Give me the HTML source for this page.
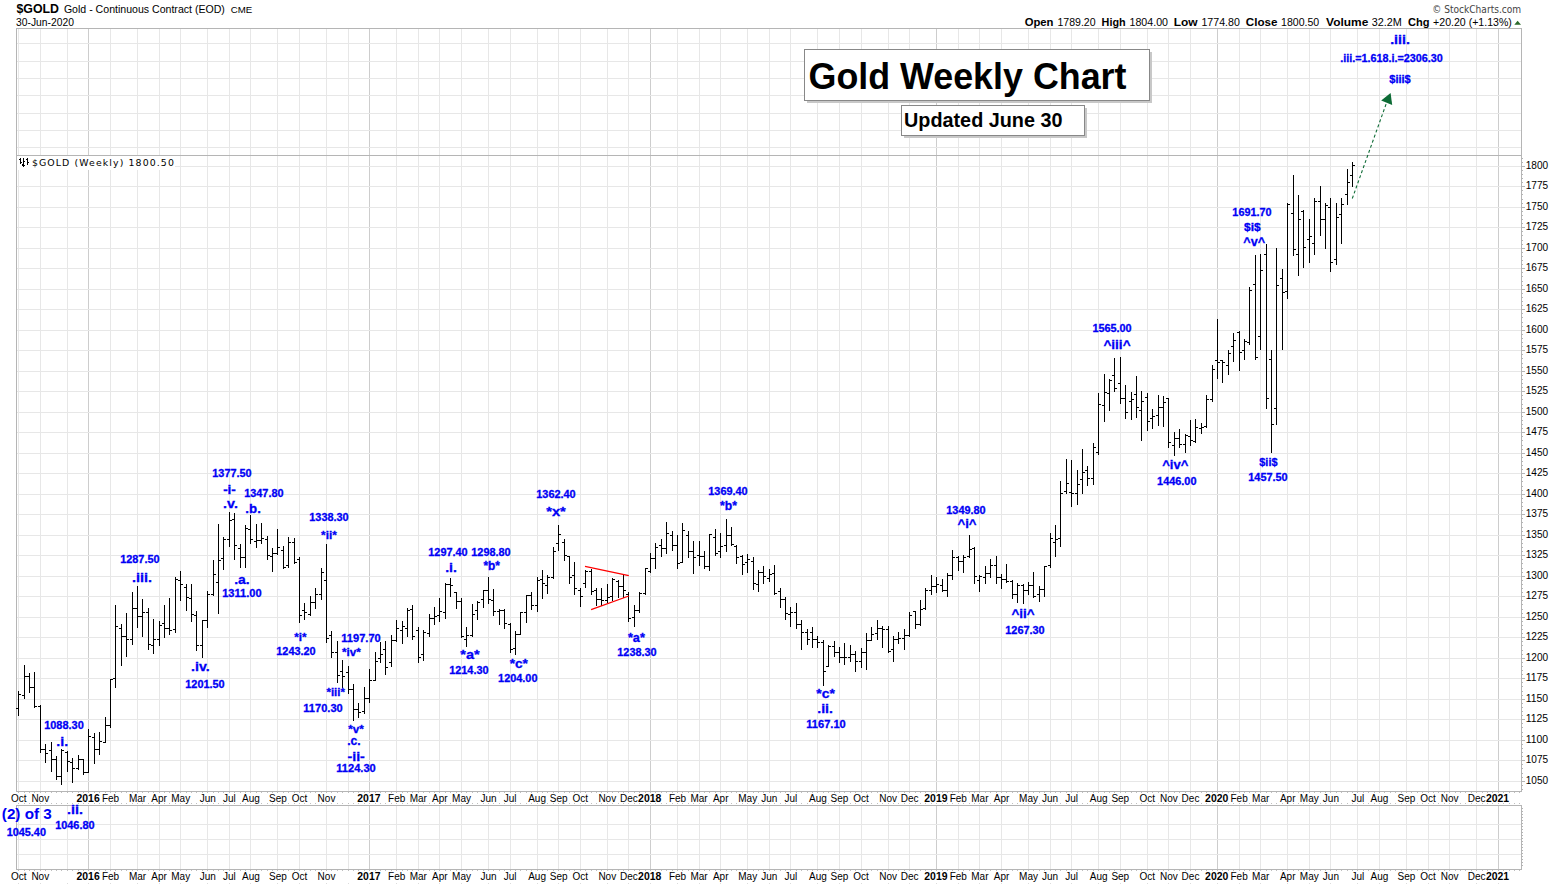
<!DOCTYPE html>
<html lang="en"><head><meta charset="utf-8"><title>$GOLD Gold Weekly Chart</title>
<style>html,body{margin:0;padding:0;background:#fff}body{width:1565px;height:885px;overflow:hidden;font-family:"Liberation Sans", Arial, sans-serif}svg{display:block}</style>
</head><body>
<svg width="1565" height="885" viewBox="0 0 1565 885" shape-rendering="crispEdges">
<rect width="1565" height="885" fill="#fff"/>
<g id="grid"><rect x="18" y="28" width="1" height="763" fill="#e7e7e7"/><rect x="18" y="805" width="1" height="64" fill="#e7e7e7"/><rect x="40" y="28" width="1" height="763" fill="#e7e7e7"/><rect x="40" y="805" width="1" height="64" fill="#e7e7e7"/><rect x="67" y="28" width="1" height="763" fill="#e7e7e7"/><rect x="67" y="805" width="1" height="64" fill="#e7e7e7"/><rect x="88" y="28" width="1" height="763" fill="#cdcdcd"/><rect x="88" y="805" width="1" height="64" fill="#cdcdcd"/><rect x="110" y="28" width="1" height="763" fill="#e7e7e7"/><rect x="110" y="805" width="1" height="64" fill="#e7e7e7"/><rect x="137" y="28" width="1" height="763" fill="#e7e7e7"/><rect x="137" y="805" width="1" height="64" fill="#e7e7e7"/><rect x="159" y="28" width="1" height="763" fill="#e7e7e7"/><rect x="159" y="805" width="1" height="64" fill="#e7e7e7"/><rect x="180" y="28" width="1" height="763" fill="#e7e7e7"/><rect x="180" y="805" width="1" height="64" fill="#e7e7e7"/><rect x="207" y="28" width="1" height="763" fill="#e7e7e7"/><rect x="207" y="805" width="1" height="64" fill="#e7e7e7"/><rect x="229" y="28" width="1" height="763" fill="#e7e7e7"/><rect x="229" y="805" width="1" height="64" fill="#e7e7e7"/><rect x="250" y="28" width="1" height="763" fill="#e7e7e7"/><rect x="250" y="805" width="1" height="64" fill="#e7e7e7"/><rect x="277" y="28" width="1" height="763" fill="#e7e7e7"/><rect x="277" y="805" width="1" height="64" fill="#e7e7e7"/><rect x="299" y="28" width="1" height="763" fill="#e7e7e7"/><rect x="299" y="805" width="1" height="64" fill="#e7e7e7"/><rect x="326" y="28" width="1" height="763" fill="#e7e7e7"/><rect x="326" y="805" width="1" height="64" fill="#e7e7e7"/><rect x="348" y="28" width="1" height="763" fill="#e7e7e7"/><rect x="348" y="805" width="1" height="64" fill="#e7e7e7"/><rect x="369" y="28" width="1" height="763" fill="#cdcdcd"/><rect x="369" y="805" width="1" height="64" fill="#cdcdcd"/><rect x="396" y="28" width="1" height="763" fill="#e7e7e7"/><rect x="396" y="805" width="1" height="64" fill="#e7e7e7"/><rect x="418" y="28" width="1" height="763" fill="#e7e7e7"/><rect x="418" y="805" width="1" height="64" fill="#e7e7e7"/><rect x="439" y="28" width="1" height="763" fill="#e7e7e7"/><rect x="439" y="805" width="1" height="64" fill="#e7e7e7"/><rect x="461" y="28" width="1" height="763" fill="#e7e7e7"/><rect x="461" y="805" width="1" height="64" fill="#e7e7e7"/><rect x="488" y="28" width="1" height="763" fill="#e7e7e7"/><rect x="488" y="805" width="1" height="64" fill="#e7e7e7"/><rect x="510" y="28" width="1" height="763" fill="#e7e7e7"/><rect x="510" y="805" width="1" height="64" fill="#e7e7e7"/><rect x="537" y="28" width="1" height="763" fill="#e7e7e7"/><rect x="537" y="805" width="1" height="64" fill="#e7e7e7"/><rect x="558" y="28" width="1" height="763" fill="#e7e7e7"/><rect x="558" y="805" width="1" height="64" fill="#e7e7e7"/><rect x="580" y="28" width="1" height="763" fill="#e7e7e7"/><rect x="580" y="805" width="1" height="64" fill="#e7e7e7"/><rect x="607" y="28" width="1" height="763" fill="#e7e7e7"/><rect x="607" y="805" width="1" height="64" fill="#e7e7e7"/><rect x="628" y="28" width="1" height="763" fill="#e7e7e7"/><rect x="628" y="805" width="1" height="64" fill="#e7e7e7"/><rect x="650" y="28" width="1" height="763" fill="#cdcdcd"/><rect x="650" y="805" width="1" height="64" fill="#cdcdcd"/><rect x="677" y="28" width="1" height="763" fill="#e7e7e7"/><rect x="677" y="805" width="1" height="64" fill="#e7e7e7"/><rect x="699" y="28" width="1" height="763" fill="#e7e7e7"/><rect x="699" y="805" width="1" height="64" fill="#e7e7e7"/><rect x="720" y="28" width="1" height="763" fill="#e7e7e7"/><rect x="720" y="805" width="1" height="64" fill="#e7e7e7"/><rect x="747" y="28" width="1" height="763" fill="#e7e7e7"/><rect x="747" y="805" width="1" height="64" fill="#e7e7e7"/><rect x="769" y="28" width="1" height="763" fill="#e7e7e7"/><rect x="769" y="805" width="1" height="64" fill="#e7e7e7"/><rect x="790" y="28" width="1" height="763" fill="#e7e7e7"/><rect x="790" y="805" width="1" height="64" fill="#e7e7e7"/><rect x="817" y="28" width="1" height="763" fill="#e7e7e7"/><rect x="817" y="805" width="1" height="64" fill="#e7e7e7"/><rect x="839" y="28" width="1" height="763" fill="#e7e7e7"/><rect x="839" y="805" width="1" height="64" fill="#e7e7e7"/><rect x="861" y="28" width="1" height="763" fill="#e7e7e7"/><rect x="861" y="805" width="1" height="64" fill="#e7e7e7"/><rect x="888" y="28" width="1" height="763" fill="#e7e7e7"/><rect x="888" y="805" width="1" height="64" fill="#e7e7e7"/><rect x="909" y="28" width="1" height="763" fill="#e7e7e7"/><rect x="909" y="805" width="1" height="64" fill="#e7e7e7"/><rect x="936" y="28" width="1" height="763" fill="#cdcdcd"/><rect x="936" y="805" width="1" height="64" fill="#cdcdcd"/><rect x="958" y="28" width="1" height="763" fill="#e7e7e7"/><rect x="958" y="805" width="1" height="64" fill="#e7e7e7"/><rect x="979" y="28" width="1" height="763" fill="#e7e7e7"/><rect x="979" y="805" width="1" height="64" fill="#e7e7e7"/><rect x="1001" y="28" width="1" height="763" fill="#e7e7e7"/><rect x="1001" y="805" width="1" height="64" fill="#e7e7e7"/><rect x="1028" y="28" width="1" height="763" fill="#e7e7e7"/><rect x="1028" y="805" width="1" height="64" fill="#e7e7e7"/><rect x="1050" y="28" width="1" height="763" fill="#e7e7e7"/><rect x="1050" y="805" width="1" height="64" fill="#e7e7e7"/><rect x="1071" y="28" width="1" height="763" fill="#e7e7e7"/><rect x="1071" y="805" width="1" height="64" fill="#e7e7e7"/><rect x="1098" y="28" width="1" height="763" fill="#e7e7e7"/><rect x="1098" y="805" width="1" height="64" fill="#e7e7e7"/><rect x="1120" y="28" width="1" height="763" fill="#e7e7e7"/><rect x="1120" y="805" width="1" height="64" fill="#e7e7e7"/><rect x="1147" y="28" width="1" height="763" fill="#e7e7e7"/><rect x="1147" y="805" width="1" height="64" fill="#e7e7e7"/><rect x="1168" y="28" width="1" height="763" fill="#e7e7e7"/><rect x="1168" y="805" width="1" height="64" fill="#e7e7e7"/><rect x="1190" y="28" width="1" height="763" fill="#e7e7e7"/><rect x="1190" y="805" width="1" height="64" fill="#e7e7e7"/><rect x="1217" y="28" width="1" height="763" fill="#cdcdcd"/><rect x="1217" y="805" width="1" height="64" fill="#cdcdcd"/><rect x="1239" y="28" width="1" height="763" fill="#e7e7e7"/><rect x="1239" y="805" width="1" height="64" fill="#e7e7e7"/><rect x="1260" y="28" width="1" height="763" fill="#e7e7e7"/><rect x="1260" y="805" width="1" height="64" fill="#e7e7e7"/><rect x="1287" y="28" width="1" height="763" fill="#e7e7e7"/><rect x="1287" y="805" width="1" height="64" fill="#e7e7e7"/><rect x="1309" y="28" width="1" height="763" fill="#e7e7e7"/><rect x="1309" y="805" width="1" height="64" fill="#e7e7e7"/><rect x="1330" y="28" width="1" height="763" fill="#e7e7e7"/><rect x="1330" y="805" width="1" height="64" fill="#e7e7e7"/><rect x="1357" y="28" width="1" height="763" fill="#e7e7e7"/><rect x="1357" y="805" width="1" height="64" fill="#e7e7e7"/><rect x="1379" y="28" width="1" height="763" fill="#e7e7e7"/><rect x="1379" y="805" width="1" height="64" fill="#e7e7e7"/><rect x="1406" y="28" width="1" height="763" fill="#e7e7e7"/><rect x="1406" y="805" width="1" height="64" fill="#e7e7e7"/><rect x="1428" y="28" width="1" height="763" fill="#e7e7e7"/><rect x="1428" y="805" width="1" height="64" fill="#e7e7e7"/><rect x="1449" y="28" width="1" height="763" fill="#e7e7e7"/><rect x="1449" y="805" width="1" height="64" fill="#e7e7e7"/><rect x="1476" y="28" width="1" height="763" fill="#e7e7e7"/><rect x="1476" y="805" width="1" height="64" fill="#e7e7e7"/><rect x="1498" y="28" width="1" height="763" fill="#cdcdcd"/><rect x="1498" y="805" width="1" height="64" fill="#cdcdcd"/><rect x="16" y="43" width="1505" height="1" fill="#e7e7e7"/><rect x="16" y="61" width="1505" height="1" fill="#e7e7e7"/><rect x="16" y="78" width="1505" height="1" fill="#e7e7e7"/><rect x="16" y="95" width="1505" height="1" fill="#e7e7e7"/><rect x="16" y="113" width="1505" height="1" fill="#e7e7e7"/><rect x="16" y="130" width="1505" height="1" fill="#e7e7e7"/><rect x="16" y="147" width="1505" height="1" fill="#e7e7e7"/><rect x="16" y="166" width="1505" height="1" fill="#e7e7e7"/><rect x="16" y="186" width="1505" height="1" fill="#e7e7e7"/><rect x="16" y="207" width="1505" height="1" fill="#e7e7e7"/><rect x="16" y="227" width="1505" height="1" fill="#e7e7e7"/><rect x="16" y="248" width="1505" height="1" fill="#e7e7e7"/><rect x="16" y="268" width="1505" height="1" fill="#e7e7e7"/><rect x="16" y="289" width="1505" height="1" fill="#e7e7e7"/><rect x="16" y="309" width="1505" height="1" fill="#e7e7e7"/><rect x="16" y="330" width="1505" height="1" fill="#e7e7e7"/><rect x="16" y="350" width="1505" height="1" fill="#e7e7e7"/><rect x="16" y="371" width="1505" height="1" fill="#e7e7e7"/><rect x="16" y="391" width="1505" height="1" fill="#e7e7e7"/><rect x="16" y="412" width="1505" height="1" fill="#e7e7e7"/><rect x="16" y="432" width="1505" height="1" fill="#e7e7e7"/><rect x="16" y="453" width="1505" height="1" fill="#e7e7e7"/><rect x="16" y="473" width="1505" height="1" fill="#e7e7e7"/><rect x="16" y="494" width="1505" height="1" fill="#e7e7e7"/><rect x="16" y="514" width="1505" height="1" fill="#e7e7e7"/><rect x="16" y="535" width="1505" height="1" fill="#e7e7e7"/><rect x="16" y="555" width="1505" height="1" fill="#e7e7e7"/><rect x="16" y="576" width="1505" height="1" fill="#e7e7e7"/><rect x="16" y="596" width="1505" height="1" fill="#e7e7e7"/><rect x="16" y="617" width="1505" height="1" fill="#e7e7e7"/><rect x="16" y="637" width="1505" height="1" fill="#e7e7e7"/><rect x="16" y="658" width="1505" height="1" fill="#e7e7e7"/><rect x="16" y="678" width="1505" height="1" fill="#e7e7e7"/><rect x="16" y="699" width="1505" height="1" fill="#e7e7e7"/><rect x="16" y="719" width="1505" height="1" fill="#e7e7e7"/><rect x="16" y="740" width="1505" height="1" fill="#e7e7e7"/><rect x="16" y="760" width="1505" height="1" fill="#e7e7e7"/><rect x="16" y="781" width="1505" height="1" fill="#e7e7e7"/><rect x="16" y="824" width="1505" height="1" fill="#e7e7e7"/><rect x="16" y="839" width="1505" height="1" fill="#e7e7e7"/><rect x="16" y="854" width="1505" height="1" fill="#e7e7e7"/></g>
<g id="borders"><rect x="16" y="28" width="1506" height="1" fill="#b5b5b5"/><rect x="16" y="155" width="1506" height="1" fill="#b5b5b5"/><rect x="16" y="791" width="1506" height="1" fill="#b5b5b5"/><rect x="16" y="28" width="1" height="764" fill="#b5b5b5"/><rect x="1521" y="28" width="1" height="764" fill="#b5b5b5"/><rect x="16" y="805" width="1506" height="1" fill="#b5b5b5"/><rect x="16" y="869" width="1506" height="1" fill="#b5b5b5"/><rect x="16" y="805" width="1" height="65" fill="#b5b5b5"/><rect x="1521" y="805" width="1" height="65" fill="#b5b5b5"/><rect x="1522" y="166" width="3" height="1" fill="#b5b5b5"/><rect x="1522" y="170" width="1" height="1" fill="#b5b5b5"/><rect x="1522" y="174" width="1" height="1" fill="#b5b5b5"/><rect x="1522" y="178" width="1" height="1" fill="#b5b5b5"/><rect x="1522" y="182" width="1" height="1" fill="#b5b5b5"/><rect x="1522" y="186" width="3" height="1" fill="#b5b5b5"/><rect x="1522" y="190" width="1" height="1" fill="#b5b5b5"/><rect x="1522" y="194" width="1" height="1" fill="#b5b5b5"/><rect x="1522" y="199" width="1" height="1" fill="#b5b5b5"/><rect x="1522" y="203" width="1" height="1" fill="#b5b5b5"/><rect x="1522" y="207" width="3" height="1" fill="#b5b5b5"/><rect x="1522" y="211" width="1" height="1" fill="#b5b5b5"/><rect x="1522" y="215" width="1" height="1" fill="#b5b5b5"/><rect x="1522" y="219" width="1" height="1" fill="#b5b5b5"/><rect x="1522" y="223" width="1" height="1" fill="#b5b5b5"/><rect x="1522" y="227" width="3" height="1" fill="#b5b5b5"/><rect x="1522" y="231" width="1" height="1" fill="#b5b5b5"/><rect x="1522" y="235" width="1" height="1" fill="#b5b5b5"/><rect x="1522" y="240" width="1" height="1" fill="#b5b5b5"/><rect x="1522" y="244" width="1" height="1" fill="#b5b5b5"/><rect x="1522" y="248" width="3" height="1" fill="#b5b5b5"/><rect x="1522" y="252" width="1" height="1" fill="#b5b5b5"/><rect x="1522" y="256" width="1" height="1" fill="#b5b5b5"/><rect x="1522" y="260" width="1" height="1" fill="#b5b5b5"/><rect x="1522" y="264" width="1" height="1" fill="#b5b5b5"/><rect x="1522" y="268" width="3" height="1" fill="#b5b5b5"/><rect x="1522" y="272" width="1" height="1" fill="#b5b5b5"/><rect x="1522" y="276" width="1" height="1" fill="#b5b5b5"/><rect x="1522" y="281" width="1" height="1" fill="#b5b5b5"/><rect x="1522" y="285" width="1" height="1" fill="#b5b5b5"/><rect x="1522" y="289" width="3" height="1" fill="#b5b5b5"/><rect x="1522" y="293" width="1" height="1" fill="#b5b5b5"/><rect x="1522" y="297" width="1" height="1" fill="#b5b5b5"/><rect x="1522" y="301" width="1" height="1" fill="#b5b5b5"/><rect x="1522" y="305" width="1" height="1" fill="#b5b5b5"/><rect x="1522" y="309" width="3" height="1" fill="#b5b5b5"/><rect x="1522" y="313" width="1" height="1" fill="#b5b5b5"/><rect x="1522" y="317" width="1" height="1" fill="#b5b5b5"/><rect x="1522" y="322" width="1" height="1" fill="#b5b5b5"/><rect x="1522" y="326" width="1" height="1" fill="#b5b5b5"/><rect x="1522" y="330" width="3" height="1" fill="#b5b5b5"/><rect x="1522" y="334" width="1" height="1" fill="#b5b5b5"/><rect x="1522" y="338" width="1" height="1" fill="#b5b5b5"/><rect x="1522" y="342" width="1" height="1" fill="#b5b5b5"/><rect x="1522" y="346" width="1" height="1" fill="#b5b5b5"/><rect x="1522" y="350" width="3" height="1" fill="#b5b5b5"/><rect x="1522" y="354" width="1" height="1" fill="#b5b5b5"/><rect x="1522" y="358" width="1" height="1" fill="#b5b5b5"/><rect x="1522" y="363" width="1" height="1" fill="#b5b5b5"/><rect x="1522" y="367" width="1" height="1" fill="#b5b5b5"/><rect x="1522" y="371" width="3" height="1" fill="#b5b5b5"/><rect x="1522" y="375" width="1" height="1" fill="#b5b5b5"/><rect x="1522" y="379" width="1" height="1" fill="#b5b5b5"/><rect x="1522" y="383" width="1" height="1" fill="#b5b5b5"/><rect x="1522" y="387" width="1" height="1" fill="#b5b5b5"/><rect x="1522" y="391" width="3" height="1" fill="#b5b5b5"/><rect x="1522" y="395" width="1" height="1" fill="#b5b5b5"/><rect x="1522" y="399" width="1" height="1" fill="#b5b5b5"/><rect x="1522" y="404" width="1" height="1" fill="#b5b5b5"/><rect x="1522" y="408" width="1" height="1" fill="#b5b5b5"/><rect x="1522" y="412" width="3" height="1" fill="#b5b5b5"/><rect x="1522" y="416" width="1" height="1" fill="#b5b5b5"/><rect x="1522" y="420" width="1" height="1" fill="#b5b5b5"/><rect x="1522" y="424" width="1" height="1" fill="#b5b5b5"/><rect x="1522" y="428" width="1" height="1" fill="#b5b5b5"/><rect x="1522" y="432" width="3" height="1" fill="#b5b5b5"/><rect x="1522" y="436" width="1" height="1" fill="#b5b5b5"/><rect x="1522" y="440" width="1" height="1" fill="#b5b5b5"/><rect x="1522" y="445" width="1" height="1" fill="#b5b5b5"/><rect x="1522" y="449" width="1" height="1" fill="#b5b5b5"/><rect x="1522" y="453" width="3" height="1" fill="#b5b5b5"/><rect x="1522" y="457" width="1" height="1" fill="#b5b5b5"/><rect x="1522" y="461" width="1" height="1" fill="#b5b5b5"/><rect x="1522" y="465" width="1" height="1" fill="#b5b5b5"/><rect x="1522" y="469" width="1" height="1" fill="#b5b5b5"/><rect x="1522" y="473" width="3" height="1" fill="#b5b5b5"/><rect x="1522" y="477" width="1" height="1" fill="#b5b5b5"/><rect x="1522" y="481" width="1" height="1" fill="#b5b5b5"/><rect x="1522" y="486" width="1" height="1" fill="#b5b5b5"/><rect x="1522" y="490" width="1" height="1" fill="#b5b5b5"/><rect x="1522" y="494" width="3" height="1" fill="#b5b5b5"/><rect x="1522" y="498" width="1" height="1" fill="#b5b5b5"/><rect x="1522" y="502" width="1" height="1" fill="#b5b5b5"/><rect x="1522" y="506" width="1" height="1" fill="#b5b5b5"/><rect x="1522" y="510" width="1" height="1" fill="#b5b5b5"/><rect x="1522" y="514" width="3" height="1" fill="#b5b5b5"/><rect x="1522" y="518" width="1" height="1" fill="#b5b5b5"/><rect x="1522" y="522" width="1" height="1" fill="#b5b5b5"/><rect x="1522" y="527" width="1" height="1" fill="#b5b5b5"/><rect x="1522" y="531" width="1" height="1" fill="#b5b5b5"/><rect x="1522" y="535" width="3" height="1" fill="#b5b5b5"/><rect x="1522" y="539" width="1" height="1" fill="#b5b5b5"/><rect x="1522" y="543" width="1" height="1" fill="#b5b5b5"/><rect x="1522" y="547" width="1" height="1" fill="#b5b5b5"/><rect x="1522" y="551" width="1" height="1" fill="#b5b5b5"/><rect x="1522" y="555" width="3" height="1" fill="#b5b5b5"/><rect x="1522" y="559" width="1" height="1" fill="#b5b5b5"/><rect x="1522" y="563" width="1" height="1" fill="#b5b5b5"/><rect x="1522" y="568" width="1" height="1" fill="#b5b5b5"/><rect x="1522" y="572" width="1" height="1" fill="#b5b5b5"/><rect x="1522" y="576" width="3" height="1" fill="#b5b5b5"/><rect x="1522" y="580" width="1" height="1" fill="#b5b5b5"/><rect x="1522" y="584" width="1" height="1" fill="#b5b5b5"/><rect x="1522" y="588" width="1" height="1" fill="#b5b5b5"/><rect x="1522" y="592" width="1" height="1" fill="#b5b5b5"/><rect x="1522" y="596" width="3" height="1" fill="#b5b5b5"/><rect x="1522" y="600" width="1" height="1" fill="#b5b5b5"/><rect x="1522" y="604" width="1" height="1" fill="#b5b5b5"/><rect x="1522" y="609" width="1" height="1" fill="#b5b5b5"/><rect x="1522" y="613" width="1" height="1" fill="#b5b5b5"/><rect x="1522" y="617" width="3" height="1" fill="#b5b5b5"/><rect x="1522" y="621" width="1" height="1" fill="#b5b5b5"/><rect x="1522" y="625" width="1" height="1" fill="#b5b5b5"/><rect x="1522" y="629" width="1" height="1" fill="#b5b5b5"/><rect x="1522" y="633" width="1" height="1" fill="#b5b5b5"/><rect x="1522" y="637" width="3" height="1" fill="#b5b5b5"/><rect x="1522" y="641" width="1" height="1" fill="#b5b5b5"/><rect x="1522" y="645" width="1" height="1" fill="#b5b5b5"/><rect x="1522" y="650" width="1" height="1" fill="#b5b5b5"/><rect x="1522" y="654" width="1" height="1" fill="#b5b5b5"/><rect x="1522" y="658" width="3" height="1" fill="#b5b5b5"/><rect x="1522" y="662" width="1" height="1" fill="#b5b5b5"/><rect x="1522" y="666" width="1" height="1" fill="#b5b5b5"/><rect x="1522" y="670" width="1" height="1" fill="#b5b5b5"/><rect x="1522" y="674" width="1" height="1" fill="#b5b5b5"/><rect x="1522" y="678" width="3" height="1" fill="#b5b5b5"/><rect x="1522" y="682" width="1" height="1" fill="#b5b5b5"/><rect x="1522" y="686" width="1" height="1" fill="#b5b5b5"/><rect x="1522" y="691" width="1" height="1" fill="#b5b5b5"/><rect x="1522" y="695" width="1" height="1" fill="#b5b5b5"/><rect x="1522" y="699" width="3" height="1" fill="#b5b5b5"/><rect x="1522" y="703" width="1" height="1" fill="#b5b5b5"/><rect x="1522" y="707" width="1" height="1" fill="#b5b5b5"/><rect x="1522" y="711" width="1" height="1" fill="#b5b5b5"/><rect x="1522" y="715" width="1" height="1" fill="#b5b5b5"/><rect x="1522" y="719" width="3" height="1" fill="#b5b5b5"/><rect x="1522" y="723" width="1" height="1" fill="#b5b5b5"/><rect x="1522" y="727" width="1" height="1" fill="#b5b5b5"/><rect x="1522" y="732" width="1" height="1" fill="#b5b5b5"/><rect x="1522" y="736" width="1" height="1" fill="#b5b5b5"/><rect x="1522" y="740" width="3" height="1" fill="#b5b5b5"/><rect x="1522" y="744" width="1" height="1" fill="#b5b5b5"/><rect x="1522" y="748" width="1" height="1" fill="#b5b5b5"/><rect x="1522" y="752" width="1" height="1" fill="#b5b5b5"/><rect x="1522" y="756" width="1" height="1" fill="#b5b5b5"/><rect x="1522" y="760" width="3" height="1" fill="#b5b5b5"/><rect x="1522" y="764" width="1" height="1" fill="#b5b5b5"/><rect x="1522" y="768" width="1" height="1" fill="#b5b5b5"/><rect x="1522" y="773" width="1" height="1" fill="#b5b5b5"/><rect x="1522" y="777" width="1" height="1" fill="#b5b5b5"/><rect x="1522" y="781" width="3" height="1" fill="#b5b5b5"/><rect x="1522" y="785" width="1" height="1" fill="#b5b5b5"/><rect x="1522" y="789" width="1" height="1" fill="#b5b5b5"/><rect x="1522" y="162" width="1" height="1" fill="#b5b5b5"/><rect x="1522" y="158" width="1" height="1" fill="#b5b5b5"/><rect x="18" y="792" width="1" height="1" fill="#bfbfbf"/><rect x="18" y="803" width="1" height="1" fill="#bfbfbf"/><rect x="18" y="870" width="1" height="1" fill="#bfbfbf"/><rect x="24" y="792" width="1" height="1" fill="#bfbfbf"/><rect x="24" y="803" width="1" height="1" fill="#bfbfbf"/><rect x="24" y="870" width="1" height="1" fill="#bfbfbf"/><rect x="29" y="792" width="1" height="1" fill="#bfbfbf"/><rect x="29" y="803" width="1" height="1" fill="#bfbfbf"/><rect x="29" y="870" width="1" height="1" fill="#bfbfbf"/><rect x="34" y="792" width="1" height="1" fill="#bfbfbf"/><rect x="34" y="803" width="1" height="1" fill="#bfbfbf"/><rect x="34" y="870" width="1" height="1" fill="#bfbfbf"/><rect x="40" y="792" width="1" height="1" fill="#bfbfbf"/><rect x="40" y="803" width="1" height="1" fill="#bfbfbf"/><rect x="40" y="870" width="1" height="1" fill="#bfbfbf"/><rect x="45" y="792" width="1" height="1" fill="#bfbfbf"/><rect x="45" y="803" width="1" height="1" fill="#bfbfbf"/><rect x="45" y="870" width="1" height="1" fill="#bfbfbf"/><rect x="51" y="792" width="1" height="1" fill="#bfbfbf"/><rect x="51" y="803" width="1" height="1" fill="#bfbfbf"/><rect x="51" y="870" width="1" height="1" fill="#bfbfbf"/><rect x="56" y="792" width="1" height="1" fill="#bfbfbf"/><rect x="56" y="803" width="1" height="1" fill="#bfbfbf"/><rect x="56" y="870" width="1" height="1" fill="#bfbfbf"/><rect x="61" y="792" width="1" height="1" fill="#bfbfbf"/><rect x="61" y="803" width="1" height="1" fill="#bfbfbf"/><rect x="61" y="870" width="1" height="1" fill="#bfbfbf"/><rect x="67" y="792" width="1" height="1" fill="#bfbfbf"/><rect x="67" y="803" width="1" height="1" fill="#bfbfbf"/><rect x="67" y="870" width="1" height="1" fill="#bfbfbf"/><rect x="72" y="792" width="1" height="1" fill="#bfbfbf"/><rect x="72" y="803" width="1" height="1" fill="#bfbfbf"/><rect x="72" y="870" width="1" height="1" fill="#bfbfbf"/><rect x="78" y="792" width="1" height="1" fill="#bfbfbf"/><rect x="78" y="803" width="1" height="1" fill="#bfbfbf"/><rect x="78" y="870" width="1" height="1" fill="#bfbfbf"/><rect x="83" y="792" width="1" height="1" fill="#bfbfbf"/><rect x="83" y="803" width="1" height="1" fill="#bfbfbf"/><rect x="83" y="870" width="1" height="1" fill="#bfbfbf"/><rect x="88" y="792" width="1" height="1" fill="#bfbfbf"/><rect x="88" y="803" width="1" height="1" fill="#bfbfbf"/><rect x="88" y="870" width="1" height="1" fill="#bfbfbf"/><rect x="94" y="792" width="1" height="1" fill="#bfbfbf"/><rect x="94" y="803" width="1" height="1" fill="#bfbfbf"/><rect x="94" y="870" width="1" height="1" fill="#bfbfbf"/><rect x="99" y="792" width="1" height="1" fill="#bfbfbf"/><rect x="99" y="803" width="1" height="1" fill="#bfbfbf"/><rect x="99" y="870" width="1" height="1" fill="#bfbfbf"/><rect x="105" y="792" width="1" height="1" fill="#bfbfbf"/><rect x="105" y="803" width="1" height="1" fill="#bfbfbf"/><rect x="105" y="870" width="1" height="1" fill="#bfbfbf"/><rect x="110" y="792" width="1" height="1" fill="#bfbfbf"/><rect x="110" y="803" width="1" height="1" fill="#bfbfbf"/><rect x="110" y="870" width="1" height="1" fill="#bfbfbf"/><rect x="115" y="792" width="1" height="1" fill="#bfbfbf"/><rect x="115" y="803" width="1" height="1" fill="#bfbfbf"/><rect x="115" y="870" width="1" height="1" fill="#bfbfbf"/><rect x="121" y="792" width="1" height="1" fill="#bfbfbf"/><rect x="121" y="803" width="1" height="1" fill="#bfbfbf"/><rect x="121" y="870" width="1" height="1" fill="#bfbfbf"/><rect x="126" y="792" width="1" height="1" fill="#bfbfbf"/><rect x="126" y="803" width="1" height="1" fill="#bfbfbf"/><rect x="126" y="870" width="1" height="1" fill="#bfbfbf"/><rect x="132" y="792" width="1" height="1" fill="#bfbfbf"/><rect x="132" y="803" width="1" height="1" fill="#bfbfbf"/><rect x="132" y="870" width="1" height="1" fill="#bfbfbf"/><rect x="137" y="792" width="1" height="1" fill="#bfbfbf"/><rect x="137" y="803" width="1" height="1" fill="#bfbfbf"/><rect x="137" y="870" width="1" height="1" fill="#bfbfbf"/><rect x="142" y="792" width="1" height="1" fill="#bfbfbf"/><rect x="142" y="803" width="1" height="1" fill="#bfbfbf"/><rect x="142" y="870" width="1" height="1" fill="#bfbfbf"/><rect x="148" y="792" width="1" height="1" fill="#bfbfbf"/><rect x="148" y="803" width="1" height="1" fill="#bfbfbf"/><rect x="148" y="870" width="1" height="1" fill="#bfbfbf"/><rect x="153" y="792" width="1" height="1" fill="#bfbfbf"/><rect x="153" y="803" width="1" height="1" fill="#bfbfbf"/><rect x="153" y="870" width="1" height="1" fill="#bfbfbf"/><rect x="159" y="792" width="1" height="1" fill="#bfbfbf"/><rect x="159" y="803" width="1" height="1" fill="#bfbfbf"/><rect x="159" y="870" width="1" height="1" fill="#bfbfbf"/><rect x="164" y="792" width="1" height="1" fill="#bfbfbf"/><rect x="164" y="803" width="1" height="1" fill="#bfbfbf"/><rect x="164" y="870" width="1" height="1" fill="#bfbfbf"/><rect x="169" y="792" width="1" height="1" fill="#bfbfbf"/><rect x="169" y="803" width="1" height="1" fill="#bfbfbf"/><rect x="169" y="870" width="1" height="1" fill="#bfbfbf"/><rect x="175" y="792" width="1" height="1" fill="#bfbfbf"/><rect x="175" y="803" width="1" height="1" fill="#bfbfbf"/><rect x="175" y="870" width="1" height="1" fill="#bfbfbf"/><rect x="180" y="792" width="1" height="1" fill="#bfbfbf"/><rect x="180" y="803" width="1" height="1" fill="#bfbfbf"/><rect x="180" y="870" width="1" height="1" fill="#bfbfbf"/><rect x="186" y="792" width="1" height="1" fill="#bfbfbf"/><rect x="186" y="803" width="1" height="1" fill="#bfbfbf"/><rect x="186" y="870" width="1" height="1" fill="#bfbfbf"/><rect x="191" y="792" width="1" height="1" fill="#bfbfbf"/><rect x="191" y="803" width="1" height="1" fill="#bfbfbf"/><rect x="191" y="870" width="1" height="1" fill="#bfbfbf"/><rect x="196" y="792" width="1" height="1" fill="#bfbfbf"/><rect x="196" y="803" width="1" height="1" fill="#bfbfbf"/><rect x="196" y="870" width="1" height="1" fill="#bfbfbf"/><rect x="202" y="792" width="1" height="1" fill="#bfbfbf"/><rect x="202" y="803" width="1" height="1" fill="#bfbfbf"/><rect x="202" y="870" width="1" height="1" fill="#bfbfbf"/><rect x="207" y="792" width="1" height="1" fill="#bfbfbf"/><rect x="207" y="803" width="1" height="1" fill="#bfbfbf"/><rect x="207" y="870" width="1" height="1" fill="#bfbfbf"/><rect x="213" y="792" width="1" height="1" fill="#bfbfbf"/><rect x="213" y="803" width="1" height="1" fill="#bfbfbf"/><rect x="213" y="870" width="1" height="1" fill="#bfbfbf"/><rect x="218" y="792" width="1" height="1" fill="#bfbfbf"/><rect x="218" y="803" width="1" height="1" fill="#bfbfbf"/><rect x="218" y="870" width="1" height="1" fill="#bfbfbf"/><rect x="223" y="792" width="1" height="1" fill="#bfbfbf"/><rect x="223" y="803" width="1" height="1" fill="#bfbfbf"/><rect x="223" y="870" width="1" height="1" fill="#bfbfbf"/><rect x="229" y="792" width="1" height="1" fill="#bfbfbf"/><rect x="229" y="803" width="1" height="1" fill="#bfbfbf"/><rect x="229" y="870" width="1" height="1" fill="#bfbfbf"/><rect x="234" y="792" width="1" height="1" fill="#bfbfbf"/><rect x="234" y="803" width="1" height="1" fill="#bfbfbf"/><rect x="234" y="870" width="1" height="1" fill="#bfbfbf"/><rect x="240" y="792" width="1" height="1" fill="#bfbfbf"/><rect x="240" y="803" width="1" height="1" fill="#bfbfbf"/><rect x="240" y="870" width="1" height="1" fill="#bfbfbf"/><rect x="245" y="792" width="1" height="1" fill="#bfbfbf"/><rect x="245" y="803" width="1" height="1" fill="#bfbfbf"/><rect x="245" y="870" width="1" height="1" fill="#bfbfbf"/><rect x="250" y="792" width="1" height="1" fill="#bfbfbf"/><rect x="250" y="803" width="1" height="1" fill="#bfbfbf"/><rect x="250" y="870" width="1" height="1" fill="#bfbfbf"/><rect x="256" y="792" width="1" height="1" fill="#bfbfbf"/><rect x="256" y="803" width="1" height="1" fill="#bfbfbf"/><rect x="256" y="870" width="1" height="1" fill="#bfbfbf"/><rect x="261" y="792" width="1" height="1" fill="#bfbfbf"/><rect x="261" y="803" width="1" height="1" fill="#bfbfbf"/><rect x="261" y="870" width="1" height="1" fill="#bfbfbf"/><rect x="267" y="792" width="1" height="1" fill="#bfbfbf"/><rect x="267" y="803" width="1" height="1" fill="#bfbfbf"/><rect x="267" y="870" width="1" height="1" fill="#bfbfbf"/><rect x="272" y="792" width="1" height="1" fill="#bfbfbf"/><rect x="272" y="803" width="1" height="1" fill="#bfbfbf"/><rect x="272" y="870" width="1" height="1" fill="#bfbfbf"/><rect x="277" y="792" width="1" height="1" fill="#bfbfbf"/><rect x="277" y="803" width="1" height="1" fill="#bfbfbf"/><rect x="277" y="870" width="1" height="1" fill="#bfbfbf"/><rect x="283" y="792" width="1" height="1" fill="#bfbfbf"/><rect x="283" y="803" width="1" height="1" fill="#bfbfbf"/><rect x="283" y="870" width="1" height="1" fill="#bfbfbf"/><rect x="288" y="792" width="1" height="1" fill="#bfbfbf"/><rect x="288" y="803" width="1" height="1" fill="#bfbfbf"/><rect x="288" y="870" width="1" height="1" fill="#bfbfbf"/><rect x="294" y="792" width="1" height="1" fill="#bfbfbf"/><rect x="294" y="803" width="1" height="1" fill="#bfbfbf"/><rect x="294" y="870" width="1" height="1" fill="#bfbfbf"/><rect x="299" y="792" width="1" height="1" fill="#bfbfbf"/><rect x="299" y="803" width="1" height="1" fill="#bfbfbf"/><rect x="299" y="870" width="1" height="1" fill="#bfbfbf"/><rect x="304" y="792" width="1" height="1" fill="#bfbfbf"/><rect x="304" y="803" width="1" height="1" fill="#bfbfbf"/><rect x="304" y="870" width="1" height="1" fill="#bfbfbf"/><rect x="310" y="792" width="1" height="1" fill="#bfbfbf"/><rect x="310" y="803" width="1" height="1" fill="#bfbfbf"/><rect x="310" y="870" width="1" height="1" fill="#bfbfbf"/><rect x="315" y="792" width="1" height="1" fill="#bfbfbf"/><rect x="315" y="803" width="1" height="1" fill="#bfbfbf"/><rect x="315" y="870" width="1" height="1" fill="#bfbfbf"/><rect x="321" y="792" width="1" height="1" fill="#bfbfbf"/><rect x="321" y="803" width="1" height="1" fill="#bfbfbf"/><rect x="321" y="870" width="1" height="1" fill="#bfbfbf"/><rect x="326" y="792" width="1" height="1" fill="#bfbfbf"/><rect x="326" y="803" width="1" height="1" fill="#bfbfbf"/><rect x="326" y="870" width="1" height="1" fill="#bfbfbf"/><rect x="331" y="792" width="1" height="1" fill="#bfbfbf"/><rect x="331" y="803" width="1" height="1" fill="#bfbfbf"/><rect x="331" y="870" width="1" height="1" fill="#bfbfbf"/><rect x="337" y="792" width="1" height="1" fill="#bfbfbf"/><rect x="337" y="803" width="1" height="1" fill="#bfbfbf"/><rect x="337" y="870" width="1" height="1" fill="#bfbfbf"/><rect x="342" y="792" width="1" height="1" fill="#bfbfbf"/><rect x="342" y="803" width="1" height="1" fill="#bfbfbf"/><rect x="342" y="870" width="1" height="1" fill="#bfbfbf"/><rect x="348" y="792" width="1" height="1" fill="#bfbfbf"/><rect x="348" y="803" width="1" height="1" fill="#bfbfbf"/><rect x="348" y="870" width="1" height="1" fill="#bfbfbf"/><rect x="353" y="792" width="1" height="1" fill="#bfbfbf"/><rect x="353" y="803" width="1" height="1" fill="#bfbfbf"/><rect x="353" y="870" width="1" height="1" fill="#bfbfbf"/><rect x="358" y="792" width="1" height="1" fill="#bfbfbf"/><rect x="358" y="803" width="1" height="1" fill="#bfbfbf"/><rect x="358" y="870" width="1" height="1" fill="#bfbfbf"/><rect x="364" y="792" width="1" height="1" fill="#bfbfbf"/><rect x="364" y="803" width="1" height="1" fill="#bfbfbf"/><rect x="364" y="870" width="1" height="1" fill="#bfbfbf"/><rect x="369" y="792" width="1" height="1" fill="#bfbfbf"/><rect x="369" y="803" width="1" height="1" fill="#bfbfbf"/><rect x="369" y="870" width="1" height="1" fill="#bfbfbf"/><rect x="375" y="792" width="1" height="1" fill="#bfbfbf"/><rect x="375" y="803" width="1" height="1" fill="#bfbfbf"/><rect x="375" y="870" width="1" height="1" fill="#bfbfbf"/><rect x="380" y="792" width="1" height="1" fill="#bfbfbf"/><rect x="380" y="803" width="1" height="1" fill="#bfbfbf"/><rect x="380" y="870" width="1" height="1" fill="#bfbfbf"/><rect x="385" y="792" width="1" height="1" fill="#bfbfbf"/><rect x="385" y="803" width="1" height="1" fill="#bfbfbf"/><rect x="385" y="870" width="1" height="1" fill="#bfbfbf"/><rect x="391" y="792" width="1" height="1" fill="#bfbfbf"/><rect x="391" y="803" width="1" height="1" fill="#bfbfbf"/><rect x="391" y="870" width="1" height="1" fill="#bfbfbf"/><rect x="396" y="792" width="1" height="1" fill="#bfbfbf"/><rect x="396" y="803" width="1" height="1" fill="#bfbfbf"/><rect x="396" y="870" width="1" height="1" fill="#bfbfbf"/><rect x="402" y="792" width="1" height="1" fill="#bfbfbf"/><rect x="402" y="803" width="1" height="1" fill="#bfbfbf"/><rect x="402" y="870" width="1" height="1" fill="#bfbfbf"/><rect x="407" y="792" width="1" height="1" fill="#bfbfbf"/><rect x="407" y="803" width="1" height="1" fill="#bfbfbf"/><rect x="407" y="870" width="1" height="1" fill="#bfbfbf"/><rect x="412" y="792" width="1" height="1" fill="#bfbfbf"/><rect x="412" y="803" width="1" height="1" fill="#bfbfbf"/><rect x="412" y="870" width="1" height="1" fill="#bfbfbf"/><rect x="418" y="792" width="1" height="1" fill="#bfbfbf"/><rect x="418" y="803" width="1" height="1" fill="#bfbfbf"/><rect x="418" y="870" width="1" height="1" fill="#bfbfbf"/><rect x="423" y="792" width="1" height="1" fill="#bfbfbf"/><rect x="423" y="803" width="1" height="1" fill="#bfbfbf"/><rect x="423" y="870" width="1" height="1" fill="#bfbfbf"/><rect x="429" y="792" width="1" height="1" fill="#bfbfbf"/><rect x="429" y="803" width="1" height="1" fill="#bfbfbf"/><rect x="429" y="870" width="1" height="1" fill="#bfbfbf"/><rect x="434" y="792" width="1" height="1" fill="#bfbfbf"/><rect x="434" y="803" width="1" height="1" fill="#bfbfbf"/><rect x="434" y="870" width="1" height="1" fill="#bfbfbf"/><rect x="439" y="792" width="1" height="1" fill="#bfbfbf"/><rect x="439" y="803" width="1" height="1" fill="#bfbfbf"/><rect x="439" y="870" width="1" height="1" fill="#bfbfbf"/><rect x="445" y="792" width="1" height="1" fill="#bfbfbf"/><rect x="445" y="803" width="1" height="1" fill="#bfbfbf"/><rect x="445" y="870" width="1" height="1" fill="#bfbfbf"/><rect x="450" y="792" width="1" height="1" fill="#bfbfbf"/><rect x="450" y="803" width="1" height="1" fill="#bfbfbf"/><rect x="450" y="870" width="1" height="1" fill="#bfbfbf"/><rect x="456" y="792" width="1" height="1" fill="#bfbfbf"/><rect x="456" y="803" width="1" height="1" fill="#bfbfbf"/><rect x="456" y="870" width="1" height="1" fill="#bfbfbf"/><rect x="461" y="792" width="1" height="1" fill="#bfbfbf"/><rect x="461" y="803" width="1" height="1" fill="#bfbfbf"/><rect x="461" y="870" width="1" height="1" fill="#bfbfbf"/><rect x="466" y="792" width="1" height="1" fill="#bfbfbf"/><rect x="466" y="803" width="1" height="1" fill="#bfbfbf"/><rect x="466" y="870" width="1" height="1" fill="#bfbfbf"/><rect x="472" y="792" width="1" height="1" fill="#bfbfbf"/><rect x="472" y="803" width="1" height="1" fill="#bfbfbf"/><rect x="472" y="870" width="1" height="1" fill="#bfbfbf"/><rect x="477" y="792" width="1" height="1" fill="#bfbfbf"/><rect x="477" y="803" width="1" height="1" fill="#bfbfbf"/><rect x="477" y="870" width="1" height="1" fill="#bfbfbf"/><rect x="483" y="792" width="1" height="1" fill="#bfbfbf"/><rect x="483" y="803" width="1" height="1" fill="#bfbfbf"/><rect x="483" y="870" width="1" height="1" fill="#bfbfbf"/><rect x="488" y="792" width="1" height="1" fill="#bfbfbf"/><rect x="488" y="803" width="1" height="1" fill="#bfbfbf"/><rect x="488" y="870" width="1" height="1" fill="#bfbfbf"/><rect x="493" y="792" width="1" height="1" fill="#bfbfbf"/><rect x="493" y="803" width="1" height="1" fill="#bfbfbf"/><rect x="493" y="870" width="1" height="1" fill="#bfbfbf"/><rect x="499" y="792" width="1" height="1" fill="#bfbfbf"/><rect x="499" y="803" width="1" height="1" fill="#bfbfbf"/><rect x="499" y="870" width="1" height="1" fill="#bfbfbf"/><rect x="504" y="792" width="1" height="1" fill="#bfbfbf"/><rect x="504" y="803" width="1" height="1" fill="#bfbfbf"/><rect x="504" y="870" width="1" height="1" fill="#bfbfbf"/><rect x="510" y="792" width="1" height="1" fill="#bfbfbf"/><rect x="510" y="803" width="1" height="1" fill="#bfbfbf"/><rect x="510" y="870" width="1" height="1" fill="#bfbfbf"/><rect x="515" y="792" width="1" height="1" fill="#bfbfbf"/><rect x="515" y="803" width="1" height="1" fill="#bfbfbf"/><rect x="515" y="870" width="1" height="1" fill="#bfbfbf"/><rect x="520" y="792" width="1" height="1" fill="#bfbfbf"/><rect x="520" y="803" width="1" height="1" fill="#bfbfbf"/><rect x="520" y="870" width="1" height="1" fill="#bfbfbf"/><rect x="526" y="792" width="1" height="1" fill="#bfbfbf"/><rect x="526" y="803" width="1" height="1" fill="#bfbfbf"/><rect x="526" y="870" width="1" height="1" fill="#bfbfbf"/><rect x="531" y="792" width="1" height="1" fill="#bfbfbf"/><rect x="531" y="803" width="1" height="1" fill="#bfbfbf"/><rect x="531" y="870" width="1" height="1" fill="#bfbfbf"/><rect x="537" y="792" width="1" height="1" fill="#bfbfbf"/><rect x="537" y="803" width="1" height="1" fill="#bfbfbf"/><rect x="537" y="870" width="1" height="1" fill="#bfbfbf"/><rect x="542" y="792" width="1" height="1" fill="#bfbfbf"/><rect x="542" y="803" width="1" height="1" fill="#bfbfbf"/><rect x="542" y="870" width="1" height="1" fill="#bfbfbf"/><rect x="547" y="792" width="1" height="1" fill="#bfbfbf"/><rect x="547" y="803" width="1" height="1" fill="#bfbfbf"/><rect x="547" y="870" width="1" height="1" fill="#bfbfbf"/><rect x="553" y="792" width="1" height="1" fill="#bfbfbf"/><rect x="553" y="803" width="1" height="1" fill="#bfbfbf"/><rect x="553" y="870" width="1" height="1" fill="#bfbfbf"/><rect x="558" y="792" width="1" height="1" fill="#bfbfbf"/><rect x="558" y="803" width="1" height="1" fill="#bfbfbf"/><rect x="558" y="870" width="1" height="1" fill="#bfbfbf"/><rect x="564" y="792" width="1" height="1" fill="#bfbfbf"/><rect x="564" y="803" width="1" height="1" fill="#bfbfbf"/><rect x="564" y="870" width="1" height="1" fill="#bfbfbf"/><rect x="569" y="792" width="1" height="1" fill="#bfbfbf"/><rect x="569" y="803" width="1" height="1" fill="#bfbfbf"/><rect x="569" y="870" width="1" height="1" fill="#bfbfbf"/><rect x="574" y="792" width="1" height="1" fill="#bfbfbf"/><rect x="574" y="803" width="1" height="1" fill="#bfbfbf"/><rect x="574" y="870" width="1" height="1" fill="#bfbfbf"/><rect x="580" y="792" width="1" height="1" fill="#bfbfbf"/><rect x="580" y="803" width="1" height="1" fill="#bfbfbf"/><rect x="580" y="870" width="1" height="1" fill="#bfbfbf"/><rect x="585" y="792" width="1" height="1" fill="#bfbfbf"/><rect x="585" y="803" width="1" height="1" fill="#bfbfbf"/><rect x="585" y="870" width="1" height="1" fill="#bfbfbf"/><rect x="591" y="792" width="1" height="1" fill="#bfbfbf"/><rect x="591" y="803" width="1" height="1" fill="#bfbfbf"/><rect x="591" y="870" width="1" height="1" fill="#bfbfbf"/><rect x="596" y="792" width="1" height="1" fill="#bfbfbf"/><rect x="596" y="803" width="1" height="1" fill="#bfbfbf"/><rect x="596" y="870" width="1" height="1" fill="#bfbfbf"/><rect x="601" y="792" width="1" height="1" fill="#bfbfbf"/><rect x="601" y="803" width="1" height="1" fill="#bfbfbf"/><rect x="601" y="870" width="1" height="1" fill="#bfbfbf"/><rect x="607" y="792" width="1" height="1" fill="#bfbfbf"/><rect x="607" y="803" width="1" height="1" fill="#bfbfbf"/><rect x="607" y="870" width="1" height="1" fill="#bfbfbf"/><rect x="612" y="792" width="1" height="1" fill="#bfbfbf"/><rect x="612" y="803" width="1" height="1" fill="#bfbfbf"/><rect x="612" y="870" width="1" height="1" fill="#bfbfbf"/><rect x="618" y="792" width="1" height="1" fill="#bfbfbf"/><rect x="618" y="803" width="1" height="1" fill="#bfbfbf"/><rect x="618" y="870" width="1" height="1" fill="#bfbfbf"/><rect x="623" y="792" width="1" height="1" fill="#bfbfbf"/><rect x="623" y="803" width="1" height="1" fill="#bfbfbf"/><rect x="623" y="870" width="1" height="1" fill="#bfbfbf"/><rect x="628" y="792" width="1" height="1" fill="#bfbfbf"/><rect x="628" y="803" width="1" height="1" fill="#bfbfbf"/><rect x="628" y="870" width="1" height="1" fill="#bfbfbf"/><rect x="634" y="792" width="1" height="1" fill="#bfbfbf"/><rect x="634" y="803" width="1" height="1" fill="#bfbfbf"/><rect x="634" y="870" width="1" height="1" fill="#bfbfbf"/><rect x="639" y="792" width="1" height="1" fill="#bfbfbf"/><rect x="639" y="803" width="1" height="1" fill="#bfbfbf"/><rect x="639" y="870" width="1" height="1" fill="#bfbfbf"/><rect x="645" y="792" width="1" height="1" fill="#bfbfbf"/><rect x="645" y="803" width="1" height="1" fill="#bfbfbf"/><rect x="645" y="870" width="1" height="1" fill="#bfbfbf"/><rect x="650" y="792" width="1" height="1" fill="#bfbfbf"/><rect x="650" y="803" width="1" height="1" fill="#bfbfbf"/><rect x="650" y="870" width="1" height="1" fill="#bfbfbf"/><rect x="655" y="792" width="1" height="1" fill="#bfbfbf"/><rect x="655" y="803" width="1" height="1" fill="#bfbfbf"/><rect x="655" y="870" width="1" height="1" fill="#bfbfbf"/><rect x="661" y="792" width="1" height="1" fill="#bfbfbf"/><rect x="661" y="803" width="1" height="1" fill="#bfbfbf"/><rect x="661" y="870" width="1" height="1" fill="#bfbfbf"/><rect x="666" y="792" width="1" height="1" fill="#bfbfbf"/><rect x="666" y="803" width="1" height="1" fill="#bfbfbf"/><rect x="666" y="870" width="1" height="1" fill="#bfbfbf"/><rect x="672" y="792" width="1" height="1" fill="#bfbfbf"/><rect x="672" y="803" width="1" height="1" fill="#bfbfbf"/><rect x="672" y="870" width="1" height="1" fill="#bfbfbf"/><rect x="677" y="792" width="1" height="1" fill="#bfbfbf"/><rect x="677" y="803" width="1" height="1" fill="#bfbfbf"/><rect x="677" y="870" width="1" height="1" fill="#bfbfbf"/><rect x="682" y="792" width="1" height="1" fill="#bfbfbf"/><rect x="682" y="803" width="1" height="1" fill="#bfbfbf"/><rect x="682" y="870" width="1" height="1" fill="#bfbfbf"/><rect x="688" y="792" width="1" height="1" fill="#bfbfbf"/><rect x="688" y="803" width="1" height="1" fill="#bfbfbf"/><rect x="688" y="870" width="1" height="1" fill="#bfbfbf"/><rect x="693" y="792" width="1" height="1" fill="#bfbfbf"/><rect x="693" y="803" width="1" height="1" fill="#bfbfbf"/><rect x="693" y="870" width="1" height="1" fill="#bfbfbf"/><rect x="699" y="792" width="1" height="1" fill="#bfbfbf"/><rect x="699" y="803" width="1" height="1" fill="#bfbfbf"/><rect x="699" y="870" width="1" height="1" fill="#bfbfbf"/><rect x="704" y="792" width="1" height="1" fill="#bfbfbf"/><rect x="704" y="803" width="1" height="1" fill="#bfbfbf"/><rect x="704" y="870" width="1" height="1" fill="#bfbfbf"/><rect x="709" y="792" width="1" height="1" fill="#bfbfbf"/><rect x="709" y="803" width="1" height="1" fill="#bfbfbf"/><rect x="709" y="870" width="1" height="1" fill="#bfbfbf"/><rect x="715" y="792" width="1" height="1" fill="#bfbfbf"/><rect x="715" y="803" width="1" height="1" fill="#bfbfbf"/><rect x="715" y="870" width="1" height="1" fill="#bfbfbf"/><rect x="720" y="792" width="1" height="1" fill="#bfbfbf"/><rect x="720" y="803" width="1" height="1" fill="#bfbfbf"/><rect x="720" y="870" width="1" height="1" fill="#bfbfbf"/><rect x="726" y="792" width="1" height="1" fill="#bfbfbf"/><rect x="726" y="803" width="1" height="1" fill="#bfbfbf"/><rect x="726" y="870" width="1" height="1" fill="#bfbfbf"/><rect x="731" y="792" width="1" height="1" fill="#bfbfbf"/><rect x="731" y="803" width="1" height="1" fill="#bfbfbf"/><rect x="731" y="870" width="1" height="1" fill="#bfbfbf"/><rect x="736" y="792" width="1" height="1" fill="#bfbfbf"/><rect x="736" y="803" width="1" height="1" fill="#bfbfbf"/><rect x="736" y="870" width="1" height="1" fill="#bfbfbf"/><rect x="742" y="792" width="1" height="1" fill="#bfbfbf"/><rect x="742" y="803" width="1" height="1" fill="#bfbfbf"/><rect x="742" y="870" width="1" height="1" fill="#bfbfbf"/><rect x="747" y="792" width="1" height="1" fill="#bfbfbf"/><rect x="747" y="803" width="1" height="1" fill="#bfbfbf"/><rect x="747" y="870" width="1" height="1" fill="#bfbfbf"/><rect x="753" y="792" width="1" height="1" fill="#bfbfbf"/><rect x="753" y="803" width="1" height="1" fill="#bfbfbf"/><rect x="753" y="870" width="1" height="1" fill="#bfbfbf"/><rect x="758" y="792" width="1" height="1" fill="#bfbfbf"/><rect x="758" y="803" width="1" height="1" fill="#bfbfbf"/><rect x="758" y="870" width="1" height="1" fill="#bfbfbf"/><rect x="763" y="792" width="1" height="1" fill="#bfbfbf"/><rect x="763" y="803" width="1" height="1" fill="#bfbfbf"/><rect x="763" y="870" width="1" height="1" fill="#bfbfbf"/><rect x="769" y="792" width="1" height="1" fill="#bfbfbf"/><rect x="769" y="803" width="1" height="1" fill="#bfbfbf"/><rect x="769" y="870" width="1" height="1" fill="#bfbfbf"/><rect x="774" y="792" width="1" height="1" fill="#bfbfbf"/><rect x="774" y="803" width="1" height="1" fill="#bfbfbf"/><rect x="774" y="870" width="1" height="1" fill="#bfbfbf"/><rect x="780" y="792" width="1" height="1" fill="#bfbfbf"/><rect x="780" y="803" width="1" height="1" fill="#bfbfbf"/><rect x="780" y="870" width="1" height="1" fill="#bfbfbf"/><rect x="785" y="792" width="1" height="1" fill="#bfbfbf"/><rect x="785" y="803" width="1" height="1" fill="#bfbfbf"/><rect x="785" y="870" width="1" height="1" fill="#bfbfbf"/><rect x="790" y="792" width="1" height="1" fill="#bfbfbf"/><rect x="790" y="803" width="1" height="1" fill="#bfbfbf"/><rect x="790" y="870" width="1" height="1" fill="#bfbfbf"/><rect x="796" y="792" width="1" height="1" fill="#bfbfbf"/><rect x="796" y="803" width="1" height="1" fill="#bfbfbf"/><rect x="796" y="870" width="1" height="1" fill="#bfbfbf"/><rect x="801" y="792" width="1" height="1" fill="#bfbfbf"/><rect x="801" y="803" width="1" height="1" fill="#bfbfbf"/><rect x="801" y="870" width="1" height="1" fill="#bfbfbf"/><rect x="807" y="792" width="1" height="1" fill="#bfbfbf"/><rect x="807" y="803" width="1" height="1" fill="#bfbfbf"/><rect x="807" y="870" width="1" height="1" fill="#bfbfbf"/><rect x="812" y="792" width="1" height="1" fill="#bfbfbf"/><rect x="812" y="803" width="1" height="1" fill="#bfbfbf"/><rect x="812" y="870" width="1" height="1" fill="#bfbfbf"/><rect x="817" y="792" width="1" height="1" fill="#bfbfbf"/><rect x="817" y="803" width="1" height="1" fill="#bfbfbf"/><rect x="817" y="870" width="1" height="1" fill="#bfbfbf"/><rect x="823" y="792" width="1" height="1" fill="#bfbfbf"/><rect x="823" y="803" width="1" height="1" fill="#bfbfbf"/><rect x="823" y="870" width="1" height="1" fill="#bfbfbf"/><rect x="828" y="792" width="1" height="1" fill="#bfbfbf"/><rect x="828" y="803" width="1" height="1" fill="#bfbfbf"/><rect x="828" y="870" width="1" height="1" fill="#bfbfbf"/><rect x="834" y="792" width="1" height="1" fill="#bfbfbf"/><rect x="834" y="803" width="1" height="1" fill="#bfbfbf"/><rect x="834" y="870" width="1" height="1" fill="#bfbfbf"/><rect x="839" y="792" width="1" height="1" fill="#bfbfbf"/><rect x="839" y="803" width="1" height="1" fill="#bfbfbf"/><rect x="839" y="870" width="1" height="1" fill="#bfbfbf"/><rect x="844" y="792" width="1" height="1" fill="#bfbfbf"/><rect x="844" y="803" width="1" height="1" fill="#bfbfbf"/><rect x="844" y="870" width="1" height="1" fill="#bfbfbf"/><rect x="850" y="792" width="1" height="1" fill="#bfbfbf"/><rect x="850" y="803" width="1" height="1" fill="#bfbfbf"/><rect x="850" y="870" width="1" height="1" fill="#bfbfbf"/><rect x="855" y="792" width="1" height="1" fill="#bfbfbf"/><rect x="855" y="803" width="1" height="1" fill="#bfbfbf"/><rect x="855" y="870" width="1" height="1" fill="#bfbfbf"/><rect x="861" y="792" width="1" height="1" fill="#bfbfbf"/><rect x="861" y="803" width="1" height="1" fill="#bfbfbf"/><rect x="861" y="870" width="1" height="1" fill="#bfbfbf"/><rect x="866" y="792" width="1" height="1" fill="#bfbfbf"/><rect x="866" y="803" width="1" height="1" fill="#bfbfbf"/><rect x="866" y="870" width="1" height="1" fill="#bfbfbf"/><rect x="871" y="792" width="1" height="1" fill="#bfbfbf"/><rect x="871" y="803" width="1" height="1" fill="#bfbfbf"/><rect x="871" y="870" width="1" height="1" fill="#bfbfbf"/><rect x="877" y="792" width="1" height="1" fill="#bfbfbf"/><rect x="877" y="803" width="1" height="1" fill="#bfbfbf"/><rect x="877" y="870" width="1" height="1" fill="#bfbfbf"/><rect x="882" y="792" width="1" height="1" fill="#bfbfbf"/><rect x="882" y="803" width="1" height="1" fill="#bfbfbf"/><rect x="882" y="870" width="1" height="1" fill="#bfbfbf"/><rect x="888" y="792" width="1" height="1" fill="#bfbfbf"/><rect x="888" y="803" width="1" height="1" fill="#bfbfbf"/><rect x="888" y="870" width="1" height="1" fill="#bfbfbf"/><rect x="893" y="792" width="1" height="1" fill="#bfbfbf"/><rect x="893" y="803" width="1" height="1" fill="#bfbfbf"/><rect x="893" y="870" width="1" height="1" fill="#bfbfbf"/><rect x="898" y="792" width="1" height="1" fill="#bfbfbf"/><rect x="898" y="803" width="1" height="1" fill="#bfbfbf"/><rect x="898" y="870" width="1" height="1" fill="#bfbfbf"/><rect x="904" y="792" width="1" height="1" fill="#bfbfbf"/><rect x="904" y="803" width="1" height="1" fill="#bfbfbf"/><rect x="904" y="870" width="1" height="1" fill="#bfbfbf"/><rect x="909" y="792" width="1" height="1" fill="#bfbfbf"/><rect x="909" y="803" width="1" height="1" fill="#bfbfbf"/><rect x="909" y="870" width="1" height="1" fill="#bfbfbf"/><rect x="915" y="792" width="1" height="1" fill="#bfbfbf"/><rect x="915" y="803" width="1" height="1" fill="#bfbfbf"/><rect x="915" y="870" width="1" height="1" fill="#bfbfbf"/><rect x="920" y="792" width="1" height="1" fill="#bfbfbf"/><rect x="920" y="803" width="1" height="1" fill="#bfbfbf"/><rect x="920" y="870" width="1" height="1" fill="#bfbfbf"/><rect x="925" y="792" width="1" height="1" fill="#bfbfbf"/><rect x="925" y="803" width="1" height="1" fill="#bfbfbf"/><rect x="925" y="870" width="1" height="1" fill="#bfbfbf"/><rect x="931" y="792" width="1" height="1" fill="#bfbfbf"/><rect x="931" y="803" width="1" height="1" fill="#bfbfbf"/><rect x="931" y="870" width="1" height="1" fill="#bfbfbf"/><rect x="936" y="792" width="1" height="1" fill="#bfbfbf"/><rect x="936" y="803" width="1" height="1" fill="#bfbfbf"/><rect x="936" y="870" width="1" height="1" fill="#bfbfbf"/><rect x="942" y="792" width="1" height="1" fill="#bfbfbf"/><rect x="942" y="803" width="1" height="1" fill="#bfbfbf"/><rect x="942" y="870" width="1" height="1" fill="#bfbfbf"/><rect x="947" y="792" width="1" height="1" fill="#bfbfbf"/><rect x="947" y="803" width="1" height="1" fill="#bfbfbf"/><rect x="947" y="870" width="1" height="1" fill="#bfbfbf"/><rect x="952" y="792" width="1" height="1" fill="#bfbfbf"/><rect x="952" y="803" width="1" height="1" fill="#bfbfbf"/><rect x="952" y="870" width="1" height="1" fill="#bfbfbf"/><rect x="958" y="792" width="1" height="1" fill="#bfbfbf"/><rect x="958" y="803" width="1" height="1" fill="#bfbfbf"/><rect x="958" y="870" width="1" height="1" fill="#bfbfbf"/><rect x="963" y="792" width="1" height="1" fill="#bfbfbf"/><rect x="963" y="803" width="1" height="1" fill="#bfbfbf"/><rect x="963" y="870" width="1" height="1" fill="#bfbfbf"/><rect x="969" y="792" width="1" height="1" fill="#bfbfbf"/><rect x="969" y="803" width="1" height="1" fill="#bfbfbf"/><rect x="969" y="870" width="1" height="1" fill="#bfbfbf"/><rect x="974" y="792" width="1" height="1" fill="#bfbfbf"/><rect x="974" y="803" width="1" height="1" fill="#bfbfbf"/><rect x="974" y="870" width="1" height="1" fill="#bfbfbf"/><rect x="979" y="792" width="1" height="1" fill="#bfbfbf"/><rect x="979" y="803" width="1" height="1" fill="#bfbfbf"/><rect x="979" y="870" width="1" height="1" fill="#bfbfbf"/><rect x="985" y="792" width="1" height="1" fill="#bfbfbf"/><rect x="985" y="803" width="1" height="1" fill="#bfbfbf"/><rect x="985" y="870" width="1" height="1" fill="#bfbfbf"/><rect x="990" y="792" width="1" height="1" fill="#bfbfbf"/><rect x="990" y="803" width="1" height="1" fill="#bfbfbf"/><rect x="990" y="870" width="1" height="1" fill="#bfbfbf"/><rect x="996" y="792" width="1" height="1" fill="#bfbfbf"/><rect x="996" y="803" width="1" height="1" fill="#bfbfbf"/><rect x="996" y="870" width="1" height="1" fill="#bfbfbf"/><rect x="1001" y="792" width="1" height="1" fill="#bfbfbf"/><rect x="1001" y="803" width="1" height="1" fill="#bfbfbf"/><rect x="1001" y="870" width="1" height="1" fill="#bfbfbf"/><rect x="1006" y="792" width="1" height="1" fill="#bfbfbf"/><rect x="1006" y="803" width="1" height="1" fill="#bfbfbf"/><rect x="1006" y="870" width="1" height="1" fill="#bfbfbf"/><rect x="1012" y="792" width="1" height="1" fill="#bfbfbf"/><rect x="1012" y="803" width="1" height="1" fill="#bfbfbf"/><rect x="1012" y="870" width="1" height="1" fill="#bfbfbf"/><rect x="1017" y="792" width="1" height="1" fill="#bfbfbf"/><rect x="1017" y="803" width="1" height="1" fill="#bfbfbf"/><rect x="1017" y="870" width="1" height="1" fill="#bfbfbf"/><rect x="1023" y="792" width="1" height="1" fill="#bfbfbf"/><rect x="1023" y="803" width="1" height="1" fill="#bfbfbf"/><rect x="1023" y="870" width="1" height="1" fill="#bfbfbf"/><rect x="1028" y="792" width="1" height="1" fill="#bfbfbf"/><rect x="1028" y="803" width="1" height="1" fill="#bfbfbf"/><rect x="1028" y="870" width="1" height="1" fill="#bfbfbf"/><rect x="1033" y="792" width="1" height="1" fill="#bfbfbf"/><rect x="1033" y="803" width="1" height="1" fill="#bfbfbf"/><rect x="1033" y="870" width="1" height="1" fill="#bfbfbf"/><rect x="1039" y="792" width="1" height="1" fill="#bfbfbf"/><rect x="1039" y="803" width="1" height="1" fill="#bfbfbf"/><rect x="1039" y="870" width="1" height="1" fill="#bfbfbf"/><rect x="1044" y="792" width="1" height="1" fill="#bfbfbf"/><rect x="1044" y="803" width="1" height="1" fill="#bfbfbf"/><rect x="1044" y="870" width="1" height="1" fill="#bfbfbf"/><rect x="1050" y="792" width="1" height="1" fill="#bfbfbf"/><rect x="1050" y="803" width="1" height="1" fill="#bfbfbf"/><rect x="1050" y="870" width="1" height="1" fill="#bfbfbf"/><rect x="1055" y="792" width="1" height="1" fill="#bfbfbf"/><rect x="1055" y="803" width="1" height="1" fill="#bfbfbf"/><rect x="1055" y="870" width="1" height="1" fill="#bfbfbf"/><rect x="1060" y="792" width="1" height="1" fill="#bfbfbf"/><rect x="1060" y="803" width="1" height="1" fill="#bfbfbf"/><rect x="1060" y="870" width="1" height="1" fill="#bfbfbf"/><rect x="1066" y="792" width="1" height="1" fill="#bfbfbf"/><rect x="1066" y="803" width="1" height="1" fill="#bfbfbf"/><rect x="1066" y="870" width="1" height="1" fill="#bfbfbf"/><rect x="1071" y="792" width="1" height="1" fill="#bfbfbf"/><rect x="1071" y="803" width="1" height="1" fill="#bfbfbf"/><rect x="1071" y="870" width="1" height="1" fill="#bfbfbf"/><rect x="1077" y="792" width="1" height="1" fill="#bfbfbf"/><rect x="1077" y="803" width="1" height="1" fill="#bfbfbf"/><rect x="1077" y="870" width="1" height="1" fill="#bfbfbf"/><rect x="1082" y="792" width="1" height="1" fill="#bfbfbf"/><rect x="1082" y="803" width="1" height="1" fill="#bfbfbf"/><rect x="1082" y="870" width="1" height="1" fill="#bfbfbf"/><rect x="1087" y="792" width="1" height="1" fill="#bfbfbf"/><rect x="1087" y="803" width="1" height="1" fill="#bfbfbf"/><rect x="1087" y="870" width="1" height="1" fill="#bfbfbf"/><rect x="1093" y="792" width="1" height="1" fill="#bfbfbf"/><rect x="1093" y="803" width="1" height="1" fill="#bfbfbf"/><rect x="1093" y="870" width="1" height="1" fill="#bfbfbf"/><rect x="1098" y="792" width="1" height="1" fill="#bfbfbf"/><rect x="1098" y="803" width="1" height="1" fill="#bfbfbf"/><rect x="1098" y="870" width="1" height="1" fill="#bfbfbf"/><rect x="1104" y="792" width="1" height="1" fill="#bfbfbf"/><rect x="1104" y="803" width="1" height="1" fill="#bfbfbf"/><rect x="1104" y="870" width="1" height="1" fill="#bfbfbf"/><rect x="1109" y="792" width="1" height="1" fill="#bfbfbf"/><rect x="1109" y="803" width="1" height="1" fill="#bfbfbf"/><rect x="1109" y="870" width="1" height="1" fill="#bfbfbf"/><rect x="1114" y="792" width="1" height="1" fill="#bfbfbf"/><rect x="1114" y="803" width="1" height="1" fill="#bfbfbf"/><rect x="1114" y="870" width="1" height="1" fill="#bfbfbf"/><rect x="1120" y="792" width="1" height="1" fill="#bfbfbf"/><rect x="1120" y="803" width="1" height="1" fill="#bfbfbf"/><rect x="1120" y="870" width="1" height="1" fill="#bfbfbf"/><rect x="1125" y="792" width="1" height="1" fill="#bfbfbf"/><rect x="1125" y="803" width="1" height="1" fill="#bfbfbf"/><rect x="1125" y="870" width="1" height="1" fill="#bfbfbf"/><rect x="1131" y="792" width="1" height="1" fill="#bfbfbf"/><rect x="1131" y="803" width="1" height="1" fill="#bfbfbf"/><rect x="1131" y="870" width="1" height="1" fill="#bfbfbf"/><rect x="1136" y="792" width="1" height="1" fill="#bfbfbf"/><rect x="1136" y="803" width="1" height="1" fill="#bfbfbf"/><rect x="1136" y="870" width="1" height="1" fill="#bfbfbf"/><rect x="1141" y="792" width="1" height="1" fill="#bfbfbf"/><rect x="1141" y="803" width="1" height="1" fill="#bfbfbf"/><rect x="1141" y="870" width="1" height="1" fill="#bfbfbf"/><rect x="1147" y="792" width="1" height="1" fill="#bfbfbf"/><rect x="1147" y="803" width="1" height="1" fill="#bfbfbf"/><rect x="1147" y="870" width="1" height="1" fill="#bfbfbf"/><rect x="1152" y="792" width="1" height="1" fill="#bfbfbf"/><rect x="1152" y="803" width="1" height="1" fill="#bfbfbf"/><rect x="1152" y="870" width="1" height="1" fill="#bfbfbf"/><rect x="1158" y="792" width="1" height="1" fill="#bfbfbf"/><rect x="1158" y="803" width="1" height="1" fill="#bfbfbf"/><rect x="1158" y="870" width="1" height="1" fill="#bfbfbf"/><rect x="1163" y="792" width="1" height="1" fill="#bfbfbf"/><rect x="1163" y="803" width="1" height="1" fill="#bfbfbf"/><rect x="1163" y="870" width="1" height="1" fill="#bfbfbf"/><rect x="1168" y="792" width="1" height="1" fill="#bfbfbf"/><rect x="1168" y="803" width="1" height="1" fill="#bfbfbf"/><rect x="1168" y="870" width="1" height="1" fill="#bfbfbf"/><rect x="1174" y="792" width="1" height="1" fill="#bfbfbf"/><rect x="1174" y="803" width="1" height="1" fill="#bfbfbf"/><rect x="1174" y="870" width="1" height="1" fill="#bfbfbf"/><rect x="1179" y="792" width="1" height="1" fill="#bfbfbf"/><rect x="1179" y="803" width="1" height="1" fill="#bfbfbf"/><rect x="1179" y="870" width="1" height="1" fill="#bfbfbf"/><rect x="1185" y="792" width="1" height="1" fill="#bfbfbf"/><rect x="1185" y="803" width="1" height="1" fill="#bfbfbf"/><rect x="1185" y="870" width="1" height="1" fill="#bfbfbf"/><rect x="1190" y="792" width="1" height="1" fill="#bfbfbf"/><rect x="1190" y="803" width="1" height="1" fill="#bfbfbf"/><rect x="1190" y="870" width="1" height="1" fill="#bfbfbf"/><rect x="1195" y="792" width="1" height="1" fill="#bfbfbf"/><rect x="1195" y="803" width="1" height="1" fill="#bfbfbf"/><rect x="1195" y="870" width="1" height="1" fill="#bfbfbf"/><rect x="1201" y="792" width="1" height="1" fill="#bfbfbf"/><rect x="1201" y="803" width="1" height="1" fill="#bfbfbf"/><rect x="1201" y="870" width="1" height="1" fill="#bfbfbf"/><rect x="1206" y="792" width="1" height="1" fill="#bfbfbf"/><rect x="1206" y="803" width="1" height="1" fill="#bfbfbf"/><rect x="1206" y="870" width="1" height="1" fill="#bfbfbf"/><rect x="1212" y="792" width="1" height="1" fill="#bfbfbf"/><rect x="1212" y="803" width="1" height="1" fill="#bfbfbf"/><rect x="1212" y="870" width="1" height="1" fill="#bfbfbf"/><rect x="1217" y="792" width="1" height="1" fill="#bfbfbf"/><rect x="1217" y="803" width="1" height="1" fill="#bfbfbf"/><rect x="1217" y="870" width="1" height="1" fill="#bfbfbf"/><rect x="1222" y="792" width="1" height="1" fill="#bfbfbf"/><rect x="1222" y="803" width="1" height="1" fill="#bfbfbf"/><rect x="1222" y="870" width="1" height="1" fill="#bfbfbf"/><rect x="1228" y="792" width="1" height="1" fill="#bfbfbf"/><rect x="1228" y="803" width="1" height="1" fill="#bfbfbf"/><rect x="1228" y="870" width="1" height="1" fill="#bfbfbf"/><rect x="1233" y="792" width="1" height="1" fill="#bfbfbf"/><rect x="1233" y="803" width="1" height="1" fill="#bfbfbf"/><rect x="1233" y="870" width="1" height="1" fill="#bfbfbf"/><rect x="1239" y="792" width="1" height="1" fill="#bfbfbf"/><rect x="1239" y="803" width="1" height="1" fill="#bfbfbf"/><rect x="1239" y="870" width="1" height="1" fill="#bfbfbf"/><rect x="1244" y="792" width="1" height="1" fill="#bfbfbf"/><rect x="1244" y="803" width="1" height="1" fill="#bfbfbf"/><rect x="1244" y="870" width="1" height="1" fill="#bfbfbf"/><rect x="1249" y="792" width="1" height="1" fill="#bfbfbf"/><rect x="1249" y="803" width="1" height="1" fill="#bfbfbf"/><rect x="1249" y="870" width="1" height="1" fill="#bfbfbf"/><rect x="1255" y="792" width="1" height="1" fill="#bfbfbf"/><rect x="1255" y="803" width="1" height="1" fill="#bfbfbf"/><rect x="1255" y="870" width="1" height="1" fill="#bfbfbf"/><rect x="1260" y="792" width="1" height="1" fill="#bfbfbf"/><rect x="1260" y="803" width="1" height="1" fill="#bfbfbf"/><rect x="1260" y="870" width="1" height="1" fill="#bfbfbf"/><rect x="1266" y="792" width="1" height="1" fill="#bfbfbf"/><rect x="1266" y="803" width="1" height="1" fill="#bfbfbf"/><rect x="1266" y="870" width="1" height="1" fill="#bfbfbf"/><rect x="1271" y="792" width="1" height="1" fill="#bfbfbf"/><rect x="1271" y="803" width="1" height="1" fill="#bfbfbf"/><rect x="1271" y="870" width="1" height="1" fill="#bfbfbf"/><rect x="1276" y="792" width="1" height="1" fill="#bfbfbf"/><rect x="1276" y="803" width="1" height="1" fill="#bfbfbf"/><rect x="1276" y="870" width="1" height="1" fill="#bfbfbf"/><rect x="1282" y="792" width="1" height="1" fill="#bfbfbf"/><rect x="1282" y="803" width="1" height="1" fill="#bfbfbf"/><rect x="1282" y="870" width="1" height="1" fill="#bfbfbf"/><rect x="1287" y="792" width="1" height="1" fill="#bfbfbf"/><rect x="1287" y="803" width="1" height="1" fill="#bfbfbf"/><rect x="1287" y="870" width="1" height="1" fill="#bfbfbf"/><rect x="1293" y="792" width="1" height="1" fill="#bfbfbf"/><rect x="1293" y="803" width="1" height="1" fill="#bfbfbf"/><rect x="1293" y="870" width="1" height="1" fill="#bfbfbf"/><rect x="1298" y="792" width="1" height="1" fill="#bfbfbf"/><rect x="1298" y="803" width="1" height="1" fill="#bfbfbf"/><rect x="1298" y="870" width="1" height="1" fill="#bfbfbf"/><rect x="1303" y="792" width="1" height="1" fill="#bfbfbf"/><rect x="1303" y="803" width="1" height="1" fill="#bfbfbf"/><rect x="1303" y="870" width="1" height="1" fill="#bfbfbf"/><rect x="1309" y="792" width="1" height="1" fill="#bfbfbf"/><rect x="1309" y="803" width="1" height="1" fill="#bfbfbf"/><rect x="1309" y="870" width="1" height="1" fill="#bfbfbf"/><rect x="1314" y="792" width="1" height="1" fill="#bfbfbf"/><rect x="1314" y="803" width="1" height="1" fill="#bfbfbf"/><rect x="1314" y="870" width="1" height="1" fill="#bfbfbf"/><rect x="1320" y="792" width="1" height="1" fill="#bfbfbf"/><rect x="1320" y="803" width="1" height="1" fill="#bfbfbf"/><rect x="1320" y="870" width="1" height="1" fill="#bfbfbf"/><rect x="1325" y="792" width="1" height="1" fill="#bfbfbf"/><rect x="1325" y="803" width="1" height="1" fill="#bfbfbf"/><rect x="1325" y="870" width="1" height="1" fill="#bfbfbf"/><rect x="1330" y="792" width="1" height="1" fill="#bfbfbf"/><rect x="1330" y="803" width="1" height="1" fill="#bfbfbf"/><rect x="1330" y="870" width="1" height="1" fill="#bfbfbf"/><rect x="1336" y="792" width="1" height="1" fill="#bfbfbf"/><rect x="1336" y="803" width="1" height="1" fill="#bfbfbf"/><rect x="1336" y="870" width="1" height="1" fill="#bfbfbf"/><rect x="1341" y="792" width="1" height="1" fill="#bfbfbf"/><rect x="1341" y="803" width="1" height="1" fill="#bfbfbf"/><rect x="1341" y="870" width="1" height="1" fill="#bfbfbf"/><rect x="1347" y="792" width="1" height="1" fill="#bfbfbf"/><rect x="1347" y="803" width="1" height="1" fill="#bfbfbf"/><rect x="1347" y="870" width="1" height="1" fill="#bfbfbf"/><rect x="1352" y="792" width="1" height="1" fill="#bfbfbf"/><rect x="1352" y="803" width="1" height="1" fill="#bfbfbf"/><rect x="1352" y="870" width="1" height="1" fill="#bfbfbf"/><rect x="1357" y="792" width="1" height="1" fill="#bfbfbf"/><rect x="1357" y="803" width="1" height="1" fill="#bfbfbf"/><rect x="1357" y="870" width="1" height="1" fill="#bfbfbf"/><rect x="1363" y="792" width="1" height="1" fill="#bfbfbf"/><rect x="1363" y="803" width="1" height="1" fill="#bfbfbf"/><rect x="1363" y="870" width="1" height="1" fill="#bfbfbf"/><rect x="1368" y="792" width="1" height="1" fill="#bfbfbf"/><rect x="1368" y="803" width="1" height="1" fill="#bfbfbf"/><rect x="1368" y="870" width="1" height="1" fill="#bfbfbf"/><rect x="1374" y="792" width="1" height="1" fill="#bfbfbf"/><rect x="1374" y="803" width="1" height="1" fill="#bfbfbf"/><rect x="1374" y="870" width="1" height="1" fill="#bfbfbf"/><rect x="1379" y="792" width="1" height="1" fill="#bfbfbf"/><rect x="1379" y="803" width="1" height="1" fill="#bfbfbf"/><rect x="1379" y="870" width="1" height="1" fill="#bfbfbf"/><rect x="1384" y="792" width="1" height="1" fill="#bfbfbf"/><rect x="1384" y="803" width="1" height="1" fill="#bfbfbf"/><rect x="1384" y="870" width="1" height="1" fill="#bfbfbf"/><rect x="1390" y="792" width="1" height="1" fill="#bfbfbf"/><rect x="1390" y="803" width="1" height="1" fill="#bfbfbf"/><rect x="1390" y="870" width="1" height="1" fill="#bfbfbf"/><rect x="1395" y="792" width="1" height="1" fill="#bfbfbf"/><rect x="1395" y="803" width="1" height="1" fill="#bfbfbf"/><rect x="1395" y="870" width="1" height="1" fill="#bfbfbf"/><rect x="1401" y="792" width="1" height="1" fill="#bfbfbf"/><rect x="1401" y="803" width="1" height="1" fill="#bfbfbf"/><rect x="1401" y="870" width="1" height="1" fill="#bfbfbf"/><rect x="1406" y="792" width="1" height="1" fill="#bfbfbf"/><rect x="1406" y="803" width="1" height="1" fill="#bfbfbf"/><rect x="1406" y="870" width="1" height="1" fill="#bfbfbf"/><rect x="1411" y="792" width="1" height="1" fill="#bfbfbf"/><rect x="1411" y="803" width="1" height="1" fill="#bfbfbf"/><rect x="1411" y="870" width="1" height="1" fill="#bfbfbf"/><rect x="1417" y="792" width="1" height="1" fill="#bfbfbf"/><rect x="1417" y="803" width="1" height="1" fill="#bfbfbf"/><rect x="1417" y="870" width="1" height="1" fill="#bfbfbf"/><rect x="1422" y="792" width="1" height="1" fill="#bfbfbf"/><rect x="1422" y="803" width="1" height="1" fill="#bfbfbf"/><rect x="1422" y="870" width="1" height="1" fill="#bfbfbf"/><rect x="1428" y="792" width="1" height="1" fill="#bfbfbf"/><rect x="1428" y="803" width="1" height="1" fill="#bfbfbf"/><rect x="1428" y="870" width="1" height="1" fill="#bfbfbf"/><rect x="1433" y="792" width="1" height="1" fill="#bfbfbf"/><rect x="1433" y="803" width="1" height="1" fill="#bfbfbf"/><rect x="1433" y="870" width="1" height="1" fill="#bfbfbf"/><rect x="1438" y="792" width="1" height="1" fill="#bfbfbf"/><rect x="1438" y="803" width="1" height="1" fill="#bfbfbf"/><rect x="1438" y="870" width="1" height="1" fill="#bfbfbf"/><rect x="1444" y="792" width="1" height="1" fill="#bfbfbf"/><rect x="1444" y="803" width="1" height="1" fill="#bfbfbf"/><rect x="1444" y="870" width="1" height="1" fill="#bfbfbf"/><rect x="1449" y="792" width="1" height="1" fill="#bfbfbf"/><rect x="1449" y="803" width="1" height="1" fill="#bfbfbf"/><rect x="1449" y="870" width="1" height="1" fill="#bfbfbf"/><rect x="1455" y="792" width="1" height="1" fill="#bfbfbf"/><rect x="1455" y="803" width="1" height="1" fill="#bfbfbf"/><rect x="1455" y="870" width="1" height="1" fill="#bfbfbf"/><rect x="1460" y="792" width="1" height="1" fill="#bfbfbf"/><rect x="1460" y="803" width="1" height="1" fill="#bfbfbf"/><rect x="1460" y="870" width="1" height="1" fill="#bfbfbf"/><rect x="1465" y="792" width="1" height="1" fill="#bfbfbf"/><rect x="1465" y="803" width="1" height="1" fill="#bfbfbf"/><rect x="1465" y="870" width="1" height="1" fill="#bfbfbf"/><rect x="1471" y="792" width="1" height="1" fill="#bfbfbf"/><rect x="1471" y="803" width="1" height="1" fill="#bfbfbf"/><rect x="1471" y="870" width="1" height="1" fill="#bfbfbf"/><rect x="1476" y="792" width="1" height="1" fill="#bfbfbf"/><rect x="1476" y="803" width="1" height="1" fill="#bfbfbf"/><rect x="1476" y="870" width="1" height="1" fill="#bfbfbf"/><rect x="1482" y="792" width="1" height="1" fill="#bfbfbf"/><rect x="1482" y="803" width="1" height="1" fill="#bfbfbf"/><rect x="1482" y="870" width="1" height="1" fill="#bfbfbf"/><rect x="1487" y="792" width="1" height="1" fill="#bfbfbf"/><rect x="1487" y="803" width="1" height="1" fill="#bfbfbf"/><rect x="1487" y="870" width="1" height="1" fill="#bfbfbf"/><rect x="1492" y="792" width="1" height="1" fill="#bfbfbf"/><rect x="1492" y="803" width="1" height="1" fill="#bfbfbf"/><rect x="1492" y="870" width="1" height="1" fill="#bfbfbf"/><rect x="1498" y="792" width="1" height="1" fill="#bfbfbf"/><rect x="1498" y="803" width="1" height="1" fill="#bfbfbf"/><rect x="1498" y="870" width="1" height="1" fill="#bfbfbf"/><rect x="1503" y="792" width="1" height="1" fill="#bfbfbf"/><rect x="1503" y="803" width="1" height="1" fill="#bfbfbf"/><rect x="1503" y="870" width="1" height="1" fill="#bfbfbf"/><rect x="1509" y="792" width="1" height="1" fill="#bfbfbf"/><rect x="1509" y="803" width="1" height="1" fill="#bfbfbf"/><rect x="1509" y="870" width="1" height="1" fill="#bfbfbf"/><rect x="1514" y="792" width="1" height="1" fill="#bfbfbf"/><rect x="1514" y="803" width="1" height="1" fill="#bfbfbf"/><rect x="1514" y="870" width="1" height="1" fill="#bfbfbf"/><rect x="1519" y="792" width="1" height="1" fill="#bfbfbf"/><rect x="1519" y="803" width="1" height="1" fill="#bfbfbf"/><rect x="1519" y="870" width="1" height="1" fill="#bfbfbf"/><rect x="1522" y="808" width="1" height="1" fill="#b5b5b5"/><rect x="1522" y="811" width="1" height="1" fill="#b5b5b5"/><rect x="1522" y="814" width="1" height="1" fill="#b5b5b5"/><rect x="1522" y="817" width="1" height="1" fill="#b5b5b5"/><rect x="1522" y="820" width="1" height="1" fill="#b5b5b5"/><rect x="1522" y="823" width="1" height="1" fill="#b5b5b5"/><rect x="1522" y="826" width="1" height="1" fill="#b5b5b5"/><rect x="1522" y="829" width="1" height="1" fill="#b5b5b5"/><rect x="1522" y="832" width="1" height="1" fill="#b5b5b5"/><rect x="1522" y="835" width="1" height="1" fill="#b5b5b5"/><rect x="1522" y="838" width="1" height="1" fill="#b5b5b5"/><rect x="1522" y="841" width="1" height="1" fill="#b5b5b5"/><rect x="1522" y="844" width="1" height="1" fill="#b5b5b5"/><rect x="1522" y="847" width="1" height="1" fill="#b5b5b5"/><rect x="1522" y="850" width="1" height="1" fill="#b5b5b5"/><rect x="1522" y="853" width="1" height="1" fill="#b5b5b5"/><rect x="1522" y="856" width="1" height="1" fill="#b5b5b5"/><rect x="1522" y="859" width="1" height="1" fill="#b5b5b5"/><rect x="1522" y="862" width="1" height="1" fill="#b5b5b5"/><rect x="1522" y="865" width="1" height="1" fill="#b5b5b5"/><rect x="18" y="883" width="1" height="1" fill="#dcdcdc"/><rect x="40" y="883" width="1" height="1" fill="#dcdcdc"/><rect x="67" y="883" width="1" height="1" fill="#dcdcdc"/><rect x="88" y="883" width="1" height="1" fill="#dcdcdc"/><rect x="110" y="883" width="1" height="1" fill="#dcdcdc"/><rect x="137" y="883" width="1" height="1" fill="#dcdcdc"/><rect x="159" y="883" width="1" height="1" fill="#dcdcdc"/><rect x="180" y="883" width="1" height="1" fill="#dcdcdc"/><rect x="207" y="883" width="1" height="1" fill="#dcdcdc"/><rect x="229" y="883" width="1" height="1" fill="#dcdcdc"/><rect x="250" y="883" width="1" height="1" fill="#dcdcdc"/><rect x="277" y="883" width="1" height="1" fill="#dcdcdc"/><rect x="299" y="883" width="1" height="1" fill="#dcdcdc"/><rect x="326" y="883" width="1" height="1" fill="#dcdcdc"/><rect x="348" y="883" width="1" height="1" fill="#dcdcdc"/><rect x="369" y="883" width="1" height="1" fill="#dcdcdc"/><rect x="396" y="883" width="1" height="1" fill="#dcdcdc"/><rect x="418" y="883" width="1" height="1" fill="#dcdcdc"/><rect x="439" y="883" width="1" height="1" fill="#dcdcdc"/><rect x="461" y="883" width="1" height="1" fill="#dcdcdc"/><rect x="488" y="883" width="1" height="1" fill="#dcdcdc"/><rect x="510" y="883" width="1" height="1" fill="#dcdcdc"/><rect x="537" y="883" width="1" height="1" fill="#dcdcdc"/><rect x="558" y="883" width="1" height="1" fill="#dcdcdc"/><rect x="580" y="883" width="1" height="1" fill="#dcdcdc"/><rect x="607" y="883" width="1" height="1" fill="#dcdcdc"/><rect x="628" y="883" width="1" height="1" fill="#dcdcdc"/><rect x="650" y="883" width="1" height="1" fill="#dcdcdc"/><rect x="677" y="883" width="1" height="1" fill="#dcdcdc"/><rect x="699" y="883" width="1" height="1" fill="#dcdcdc"/><rect x="720" y="883" width="1" height="1" fill="#dcdcdc"/><rect x="747" y="883" width="1" height="1" fill="#dcdcdc"/><rect x="769" y="883" width="1" height="1" fill="#dcdcdc"/><rect x="790" y="883" width="1" height="1" fill="#dcdcdc"/><rect x="817" y="883" width="1" height="1" fill="#dcdcdc"/><rect x="839" y="883" width="1" height="1" fill="#dcdcdc"/><rect x="861" y="883" width="1" height="1" fill="#dcdcdc"/><rect x="888" y="883" width="1" height="1" fill="#dcdcdc"/><rect x="909" y="883" width="1" height="1" fill="#dcdcdc"/><rect x="936" y="883" width="1" height="1" fill="#dcdcdc"/><rect x="958" y="883" width="1" height="1" fill="#dcdcdc"/><rect x="979" y="883" width="1" height="1" fill="#dcdcdc"/><rect x="1001" y="883" width="1" height="1" fill="#dcdcdc"/><rect x="1028" y="883" width="1" height="1" fill="#dcdcdc"/><rect x="1050" y="883" width="1" height="1" fill="#dcdcdc"/><rect x="1071" y="883" width="1" height="1" fill="#dcdcdc"/><rect x="1098" y="883" width="1" height="1" fill="#dcdcdc"/><rect x="1120" y="883" width="1" height="1" fill="#dcdcdc"/><rect x="1147" y="883" width="1" height="1" fill="#dcdcdc"/><rect x="1168" y="883" width="1" height="1" fill="#dcdcdc"/><rect x="1190" y="883" width="1" height="1" fill="#dcdcdc"/><rect x="1217" y="883" width="1" height="1" fill="#dcdcdc"/><rect x="1239" y="883" width="1" height="1" fill="#dcdcdc"/><rect x="1260" y="883" width="1" height="1" fill="#dcdcdc"/><rect x="1287" y="883" width="1" height="1" fill="#dcdcdc"/><rect x="1309" y="883" width="1" height="1" fill="#dcdcdc"/><rect x="1330" y="883" width="1" height="1" fill="#dcdcdc"/><rect x="1357" y="883" width="1" height="1" fill="#dcdcdc"/><rect x="1379" y="883" width="1" height="1" fill="#dcdcdc"/><rect x="1406" y="883" width="1" height="1" fill="#dcdcdc"/><rect x="1428" y="883" width="1" height="1" fill="#dcdcdc"/><rect x="1449" y="883" width="1" height="1" fill="#dcdcdc"/><rect x="1476" y="883" width="1" height="1" fill="#dcdcdc"/><rect x="1498" y="883" width="1" height="1" fill="#dcdcdc"/></g>
<g id="bars" fill="#000"><rect x="18" y="691" width="1" height="25"/><rect x="16" y="708" width="2" height="1"/><rect x="19" y="694" width="2" height="1"/><rect x="24" y="665" width="1" height="34"/><rect x="22" y="695" width="2" height="1"/><rect x="25" y="676" width="2" height="1"/><rect x="29" y="673" width="1" height="20"/><rect x="27" y="676" width="2" height="1"/><rect x="30" y="687" width="2" height="1"/><rect x="34" y="672" width="1" height="36"/><rect x="32" y="687" width="2" height="1"/><rect x="35" y="706" width="2" height="1"/><rect x="40" y="705" width="1" height="48"/><rect x="38" y="706" width="2" height="1"/><rect x="41" y="749" width="2" height="1"/><rect x="45" y="744" width="1" height="19"/><rect x="43" y="749" width="2" height="1"/><rect x="46" y="753" width="2" height="1"/><rect x="51" y="742" width="1" height="30"/><rect x="49" y="750" width="2" height="1"/><rect x="52" y="759" width="2" height="1"/><rect x="56" y="756" width="1" height="24"/><rect x="54" y="759" width="2" height="1"/><rect x="57" y="776" width="2" height="1"/><rect x="61" y="749" width="1" height="36"/><rect x="59" y="776" width="2" height="1"/><rect x="62" y="750" width="2" height="1"/><rect x="67" y="751" width="1" height="21"/><rect x="65" y="752" width="2" height="1"/><rect x="68" y="761" width="2" height="1"/><rect x="72" y="758" width="1" height="25"/><rect x="70" y="762" width="2" height="1"/><rect x="73" y="768" width="2" height="1"/><rect x="78" y="755" width="1" height="15"/><rect x="76" y="768" width="2" height="1"/><rect x="79" y="759" width="2" height="1"/><rect x="83" y="759" width="1" height="16"/><rect x="81" y="759" width="2" height="1"/><rect x="84" y="772" width="2" height="1"/><rect x="88" y="729" width="1" height="44"/><rect x="86" y="772" width="2" height="1"/><rect x="89" y="736" width="2" height="1"/><rect x="94" y="733" width="1" height="31"/><rect x="92" y="737" width="2" height="1"/><rect x="95" y="749" width="2" height="1"/><rect x="99" y="732" width="1" height="23"/><rect x="97" y="749" width="2" height="1"/><rect x="100" y="741" width="2" height="1"/><rect x="105" y="717" width="1" height="26"/><rect x="103" y="742" width="2" height="1"/><rect x="106" y="725" width="2" height="1"/><rect x="110" y="679" width="1" height="49"/><rect x="108" y="725" width="2" height="1"/><rect x="111" y="679" width="2" height="1"/><rect x="115" y="605" width="1" height="83"/><rect x="113" y="678" width="2" height="1"/><rect x="116" y="626" width="2" height="1"/><rect x="121" y="624" width="1" height="42"/><rect x="119" y="628" width="2" height="1"/><rect x="122" y="636" width="2" height="1"/><rect x="126" y="613" width="1" height="44"/><rect x="124" y="636" width="2" height="1"/><rect x="127" y="639" width="2" height="1"/><rect x="132" y="592" width="1" height="53"/><rect x="130" y="639" width="2" height="1"/><rect x="133" y="608" width="2" height="1"/><rect x="137" y="586" width="1" height="42"/><rect x="135" y="608" width="2" height="1"/><rect x="138" y="616" width="2" height="1"/><rect x="142" y="599" width="1" height="38"/><rect x="140" y="616" width="2" height="1"/><rect x="143" y="612" width="2" height="1"/><rect x="148" y="608" width="1" height="42"/><rect x="146" y="612" width="2" height="1"/><rect x="149" y="644" width="2" height="1"/><rect x="153" y="619" width="1" height="35"/><rect x="151" y="645" width="2" height="1"/><rect x="154" y="639" width="2" height="1"/><rect x="159" y="621" width="1" height="25"/><rect x="157" y="639" width="2" height="1"/><rect x="160" y="625" width="2" height="1"/><rect x="164" y="605" width="1" height="33"/><rect x="162" y="623" width="2" height="1"/><rect x="165" y="628" width="2" height="1"/><rect x="169" y="598" width="1" height="37"/><rect x="167" y="628" width="2" height="1"/><rect x="170" y="630" width="2" height="1"/><rect x="175" y="577" width="1" height="56"/><rect x="173" y="629" width="2" height="1"/><rect x="176" y="579" width="2" height="1"/><rect x="180" y="571" width="1" height="30"/><rect x="178" y="580" width="2" height="1"/><rect x="181" y="584" width="2" height="1"/><rect x="186" y="584" width="1" height="27"/><rect x="184" y="587" width="2" height="1"/><rect x="187" y="597" width="2" height="1"/><rect x="191" y="584" width="1" height="38"/><rect x="189" y="598" width="2" height="1"/><rect x="192" y="614" width="2" height="1"/><rect x="196" y="611" width="1" height="40"/><rect x="194" y="615" width="2" height="1"/><rect x="197" y="645" width="2" height="1"/><rect x="202" y="620" width="1" height="38"/><rect x="200" y="645" width="2" height="1"/><rect x="203" y="620" width="2" height="1"/><rect x="207" y="591" width="1" height="37"/><rect x="205" y="620" width="2" height="1"/><rect x="208" y="594" width="2" height="1"/><rect x="213" y="560" width="1" height="36"/><rect x="211" y="594" width="2" height="1"/><rect x="214" y="574" width="2" height="1"/><rect x="218" y="524" width="1" height="90"/><rect x="216" y="582" width="2" height="1"/><rect x="219" y="560" width="2" height="1"/><rect x="223" y="537" width="1" height="33"/><rect x="221" y="558" width="2" height="1"/><rect x="224" y="539" width="2" height="1"/><rect x="229" y="512" width="1" height="35"/><rect x="227" y="539" width="2" height="1"/><rect x="230" y="520" width="2" height="1"/><rect x="234" y="513" width="1" height="47"/><rect x="232" y="519" width="2" height="1"/><rect x="235" y="545" width="2" height="1"/><rect x="240" y="544" width="1" height="24"/><rect x="238" y="548" width="2" height="1"/><rect x="241" y="557" width="2" height="1"/><rect x="245" y="525" width="1" height="43"/><rect x="243" y="557" width="2" height="1"/><rect x="246" y="528" width="2" height="1"/><rect x="250" y="515" width="1" height="29"/><rect x="248" y="529" width="2" height="1"/><rect x="251" y="539" width="2" height="1"/><rect x="256" y="524" width="1" height="24"/><rect x="254" y="541" width="2" height="1"/><rect x="257" y="540" width="2" height="1"/><rect x="261" y="523" width="1" height="21"/><rect x="259" y="540" width="2" height="1"/><rect x="262" y="538" width="2" height="1"/><rect x="267" y="536" width="1" height="24"/><rect x="265" y="539" width="2" height="1"/><rect x="268" y="555" width="2" height="1"/><rect x="272" y="548" width="1" height="24"/><rect x="270" y="556" width="2" height="1"/><rect x="273" y="553" width="2" height="1"/><rect x="277" y="529" width="1" height="26"/><rect x="275" y="553" width="2" height="1"/><rect x="278" y="547" width="2" height="1"/><rect x="283" y="546" width="1" height="23"/><rect x="281" y="550" width="2" height="1"/><rect x="284" y="567" width="2" height="1"/><rect x="288" y="537" width="1" height="31"/><rect x="286" y="565" width="2" height="1"/><rect x="289" y="542" width="2" height="1"/><rect x="294" y="538" width="1" height="26"/><rect x="292" y="542" width="2" height="1"/><rect x="295" y="562" width="2" height="1"/><rect x="299" y="557" width="1" height="66"/><rect x="297" y="559" width="2" height="1"/><rect x="300" y="615" width="2" height="1"/><rect x="304" y="603" width="1" height="17"/><rect x="302" y="610" width="2" height="1"/><rect x="305" y="612" width="2" height="1"/><rect x="310" y="596" width="1" height="20"/><rect x="308" y="614" width="2" height="1"/><rect x="311" y="602" width="2" height="1"/><rect x="315" y="588" width="1" height="21"/><rect x="313" y="602" width="2" height="1"/><rect x="316" y="594" width="2" height="1"/><rect x="321" y="568" width="1" height="32"/><rect x="319" y="594" width="2" height="1"/><rect x="322" y="572" width="2" height="1"/><rect x="326" y="544" width="1" height="99"/><rect x="324" y="580" width="2" height="1"/><rect x="327" y="638" width="2" height="1"/><rect x="331" y="631" width="1" height="27"/><rect x="329" y="635" width="2" height="1"/><rect x="332" y="652" width="2" height="1"/><rect x="337" y="641" width="1" height="42"/><rect x="335" y="652" width="2" height="1"/><rect x="338" y="675" width="2" height="1"/><rect x="342" y="660" width="1" height="28"/><rect x="340" y="671" width="2" height="1"/><rect x="343" y="676" width="2" height="1"/><rect x="348" y="666" width="1" height="28"/><rect x="346" y="672" width="2" height="1"/><rect x="349" y="689" width="2" height="1"/><rect x="353" y="684" width="1" height="37"/><rect x="351" y="689" width="2" height="1"/><rect x="354" y="709" width="2" height="1"/><rect x="358" y="703" width="1" height="15"/><rect x="356" y="709" width="2" height="1"/><rect x="359" y="712" width="2" height="1"/><rect x="364" y="687" width="1" height="27"/><rect x="362" y="711" width="2" height="1"/><rect x="365" y="698" width="2" height="1"/><rect x="369" y="669" width="1" height="34"/><rect x="367" y="698" width="2" height="1"/><rect x="370" y="680" width="2" height="1"/><rect x="375" y="652" width="1" height="29"/><rect x="373" y="680" width="2" height="1"/><rect x="376" y="661" width="2" height="1"/><rect x="380" y="642" width="1" height="21"/><rect x="378" y="658" width="2" height="1"/><rect x="381" y="654" width="2" height="1"/><rect x="385" y="641" width="1" height="34"/><rect x="383" y="649" width="2" height="1"/><rect x="386" y="667" width="2" height="1"/><rect x="391" y="635" width="1" height="32"/><rect x="389" y="662" width="2" height="1"/><rect x="392" y="640" width="2" height="1"/><rect x="396" y="620" width="1" height="22"/><rect x="394" y="640" width="2" height="1"/><rect x="397" y="628" width="2" height="1"/><rect x="402" y="621" width="1" height="23"/><rect x="400" y="630" width="2" height="1"/><rect x="403" y="626" width="2" height="1"/><rect x="407" y="608" width="1" height="29"/><rect x="405" y="628" width="2" height="1"/><rect x="408" y="610" width="2" height="1"/><rect x="412" y="605" width="1" height="35"/><rect x="410" y="609" width="2" height="1"/><rect x="413" y="636" width="2" height="1"/><rect x="418" y="627" width="1" height="36"/><rect x="416" y="630" width="2" height="1"/><rect x="419" y="657" width="2" height="1"/><rect x="423" y="630" width="1" height="31"/><rect x="421" y="654" width="2" height="1"/><rect x="424" y="632" width="2" height="1"/><rect x="429" y="614" width="1" height="23"/><rect x="427" y="633" width="2" height="1"/><rect x="430" y="618" width="2" height="1"/><rect x="434" y="607" width="1" height="18"/><rect x="432" y="618" width="2" height="1"/><rect x="435" y="616" width="2" height="1"/><rect x="439" y="598" width="1" height="24"/><rect x="437" y="615" width="2" height="1"/><rect x="440" y="611" width="2" height="1"/><rect x="445" y="583" width="1" height="36"/><rect x="443" y="612" width="2" height="1"/><rect x="446" y="584" width="2" height="1"/><rect x="450" y="578" width="1" height="19"/><rect x="448" y="584" width="2" height="1"/><rect x="451" y="585" width="2" height="1"/><rect x="456" y="592" width="1" height="17"/><rect x="454" y="592" width="2" height="1"/><rect x="457" y="601" width="2" height="1"/><rect x="461" y="598" width="1" height="40"/><rect x="459" y="601" width="2" height="1"/><rect x="462" y="636" width="2" height="1"/><rect x="466" y="627" width="1" height="20"/><rect x="464" y="639" width="2" height="1"/><rect x="467" y="635" width="2" height="1"/><rect x="472" y="604" width="1" height="33"/><rect x="470" y="635" width="2" height="1"/><rect x="473" y="614" width="2" height="1"/><rect x="477" y="601" width="1" height="19"/><rect x="475" y="610" width="2" height="1"/><rect x="478" y="602" width="2" height="1"/><rect x="483" y="590" width="1" height="18"/><rect x="481" y="599" width="2" height="1"/><rect x="484" y="590" width="2" height="1"/><rect x="488" y="577" width="1" height="27"/><rect x="486" y="590" width="2" height="1"/><rect x="489" y="599" width="2" height="1"/><rect x="493" y="589" width="1" height="27"/><rect x="491" y="600" width="2" height="1"/><rect x="494" y="611" width="2" height="1"/><rect x="499" y="609" width="1" height="16"/><rect x="497" y="611" width="2" height="1"/><rect x="500" y="610" width="2" height="1"/><rect x="504" y="609" width="1" height="20"/><rect x="502" y="610" width="2" height="1"/><rect x="505" y="623" width="2" height="1"/><rect x="510" y="623" width="1" height="30"/><rect x="508" y="624" width="2" height="1"/><rect x="511" y="649" width="2" height="1"/><rect x="515" y="631" width="1" height="24"/><rect x="513" y="648" width="2" height="1"/><rect x="516" y="634" width="2" height="1"/><rect x="520" y="612" width="1" height="23"/><rect x="518" y="634" width="2" height="1"/><rect x="521" y="612" width="2" height="1"/><rect x="526" y="595" width="1" height="28"/><rect x="524" y="612" width="2" height="1"/><rect x="527" y="595" width="2" height="1"/><rect x="531" y="592" width="1" height="18"/><rect x="529" y="595" width="2" height="1"/><rect x="532" y="605" width="2" height="1"/><rect x="537" y="577" width="1" height="35"/><rect x="535" y="605" width="2" height="1"/><rect x="538" y="580" width="2" height="1"/><rect x="542" y="570" width="1" height="29"/><rect x="540" y="579" width="2" height="1"/><rect x="543" y="583" width="2" height="1"/><rect x="547" y="575" width="1" height="19"/><rect x="545" y="585" width="2" height="1"/><rect x="548" y="577" width="2" height="1"/><rect x="553" y="547" width="1" height="32"/><rect x="551" y="577" width="2" height="1"/><rect x="554" y="551" width="2" height="1"/><rect x="558" y="525" width="1" height="26"/><rect x="556" y="543" width="2" height="1"/><rect x="559" y="534" width="2" height="1"/><rect x="564" y="539" width="1" height="22"/><rect x="562" y="542" width="2" height="1"/><rect x="565" y="555" width="2" height="1"/><rect x="569" y="556" width="1" height="28"/><rect x="567" y="556" width="2" height="1"/><rect x="570" y="577" width="2" height="1"/><rect x="574" y="562" width="1" height="33"/><rect x="572" y="575" width="2" height="1"/><rect x="575" y="588" width="2" height="1"/><rect x="580" y="588" width="1" height="19"/><rect x="578" y="590" width="2" height="1"/><rect x="581" y="596" width="2" height="1"/><rect x="585" y="570" width="1" height="18"/><rect x="583" y="583" width="2" height="1"/><rect x="586" y="571" width="2" height="1"/><rect x="591" y="569" width="1" height="26"/><rect x="589" y="571" width="2" height="1"/><rect x="592" y="591" width="2" height="1"/><rect x="596" y="588" width="1" height="18"/><rect x="594" y="590" width="2" height="1"/><rect x="597" y="599" width="2" height="1"/><rect x="601" y="588" width="1" height="18"/><rect x="599" y="599" width="2" height="1"/><rect x="602" y="600" width="2" height="1"/><rect x="607" y="584" width="1" height="19"/><rect x="605" y="600" width="2" height="1"/><rect x="608" y="597" width="2" height="1"/><rect x="612" y="578" width="1" height="23"/><rect x="610" y="596" width="2" height="1"/><rect x="613" y="579" width="2" height="1"/><rect x="618" y="580" width="1" height="18"/><rect x="616" y="581" width="2" height="1"/><rect x="619" y="586" width="2" height="1"/><rect x="623" y="575" width="1" height="23"/><rect x="621" y="586" width="2" height="1"/><rect x="624" y="590" width="2" height="1"/><rect x="628" y="592" width="1" height="30"/><rect x="626" y="594" width="2" height="1"/><rect x="629" y="618" width="2" height="1"/><rect x="634" y="605" width="1" height="22"/><rect x="632" y="617" width="2" height="1"/><rect x="635" y="610" width="2" height="1"/><rect x="639" y="592" width="1" height="21"/><rect x="637" y="610" width="2" height="1"/><rect x="640" y="593" width="2" height="1"/><rect x="645" y="568" width="1" height="27"/><rect x="643" y="593" width="2" height="1"/><rect x="646" y="568" width="2" height="1"/><rect x="650" y="553" width="1" height="20"/><rect x="648" y="571" width="2" height="1"/><rect x="651" y="558" width="2" height="1"/><rect x="655" y="543" width="1" height="26"/><rect x="653" y="558" width="2" height="1"/><rect x="656" y="547" width="2" height="1"/><rect x="661" y="539" width="1" height="18"/><rect x="659" y="545" width="2" height="1"/><rect x="662" y="548" width="2" height="1"/><rect x="666" y="522" width="1" height="32"/><rect x="664" y="548" width="2" height="1"/><rect x="667" y="533" width="2" height="1"/><rect x="672" y="531" width="1" height="20"/><rect x="670" y="535" width="2" height="1"/><rect x="673" y="545" width="2" height="1"/><rect x="677" y="535" width="1" height="34"/><rect x="675" y="545" width="2" height="1"/><rect x="678" y="563" width="2" height="1"/><rect x="682" y="523" width="1" height="40"/><rect x="680" y="562" width="2" height="1"/><rect x="683" y="530" width="2" height="1"/><rect x="688" y="531" width="1" height="27"/><rect x="686" y="535" width="2" height="1"/><rect x="689" y="551" width="2" height="1"/><rect x="693" y="541" width="1" height="33"/><rect x="691" y="551" width="2" height="1"/><rect x="694" y="557" width="2" height="1"/><rect x="699" y="541" width="1" height="25"/><rect x="697" y="555" width="2" height="1"/><rect x="700" y="556" width="2" height="1"/><rect x="704" y="551" width="1" height="18"/><rect x="702" y="556" width="2" height="1"/><rect x="705" y="566" width="2" height="1"/><rect x="709" y="534" width="1" height="37"/><rect x="707" y="566" width="2" height="1"/><rect x="710" y="534" width="2" height="1"/><rect x="715" y="529" width="1" height="27"/><rect x="713" y="537" width="2" height="1"/><rect x="716" y="553" width="2" height="1"/><rect x="720" y="533" width="1" height="25"/><rect x="718" y="551" width="2" height="1"/><rect x="721" y="546" width="2" height="1"/><rect x="726" y="519" width="1" height="33"/><rect x="724" y="545" width="2" height="1"/><rect x="727" y="535" width="2" height="1"/><rect x="731" y="527" width="1" height="19"/><rect x="729" y="535" width="2" height="1"/><rect x="732" y="544" width="2" height="1"/><rect x="736" y="545" width="1" height="19"/><rect x="734" y="546" width="2" height="1"/><rect x="737" y="557" width="2" height="1"/><rect x="742" y="555" width="1" height="20"/><rect x="740" y="556" width="2" height="1"/><rect x="743" y="564" width="2" height="1"/><rect x="747" y="554" width="1" height="19"/><rect x="745" y="562" width="2" height="1"/><rect x="748" y="559" width="2" height="1"/><rect x="753" y="557" width="1" height="33"/><rect x="751" y="561" width="2" height="1"/><rect x="754" y="583" width="2" height="1"/><rect x="758" y="570" width="1" height="22"/><rect x="756" y="584" width="2" height="1"/><rect x="759" y="572" width="2" height="1"/><rect x="763" y="566" width="1" height="18"/><rect x="761" y="572" width="2" height="1"/><rect x="764" y="576" width="2" height="1"/><rect x="769" y="569" width="1" height="13"/><rect x="767" y="578" width="2" height="1"/><rect x="770" y="574" width="2" height="1"/><rect x="774" y="565" width="1" height="30"/><rect x="772" y="573" width="2" height="1"/><rect x="775" y="593" width="2" height="1"/><rect x="780" y="588" width="1" height="20"/><rect x="778" y="591" width="2" height="1"/><rect x="781" y="599" width="2" height="1"/><rect x="785" y="597" width="1" height="23"/><rect x="783" y="599" width="2" height="1"/><rect x="786" y="613" width="2" height="1"/><rect x="790" y="607" width="1" height="20"/><rect x="788" y="614" width="2" height="1"/><rect x="791" y="612" width="2" height="1"/><rect x="796" y="603" width="1" height="26"/><rect x="794" y="612" width="2" height="1"/><rect x="797" y="624" width="2" height="1"/><rect x="801" y="620" width="1" height="30"/><rect x="799" y="624" width="2" height="1"/><rect x="802" y="632" width="2" height="1"/><rect x="807" y="629" width="1" height="16"/><rect x="805" y="632" width="2" height="1"/><rect x="808" y="639" width="2" height="1"/><rect x="812" y="627" width="1" height="21"/><rect x="810" y="632" width="2" height="1"/><rect x="813" y="639" width="2" height="1"/><rect x="817" y="636" width="1" height="12"/><rect x="815" y="639" width="2" height="1"/><rect x="818" y="642" width="2" height="1"/><rect x="823" y="640" width="1" height="46"/><rect x="821" y="642" width="2" height="1"/><rect x="824" y="671" width="2" height="1"/><rect x="828" y="645" width="1" height="22"/><rect x="826" y="666" width="2" height="1"/><rect x="829" y="646" width="2" height="1"/><rect x="834" y="641" width="1" height="16"/><rect x="832" y="646" width="2" height="1"/><rect x="835" y="652" width="2" height="1"/><rect x="839" y="647" width="1" height="16"/><rect x="837" y="652" width="2" height="1"/><rect x="840" y="657" width="2" height="1"/><rect x="844" y="643" width="1" height="22"/><rect x="842" y="657" width="2" height="1"/><rect x="845" y="657" width="2" height="1"/><rect x="850" y="645" width="1" height="17"/><rect x="848" y="657" width="2" height="1"/><rect x="851" y="654" width="2" height="1"/><rect x="855" y="651" width="1" height="21"/><rect x="853" y="654" width="2" height="1"/><rect x="856" y="661" width="2" height="1"/><rect x="861" y="648" width="1" height="20"/><rect x="859" y="661" width="2" height="1"/><rect x="862" y="652" width="2" height="1"/><rect x="866" y="633" width="1" height="37"/><rect x="864" y="652" width="2" height="1"/><rect x="867" y="640" width="2" height="1"/><rect x="871" y="627" width="1" height="14"/><rect x="869" y="640" width="2" height="1"/><rect x="872" y="634" width="2" height="1"/><rect x="877" y="620" width="1" height="20"/><rect x="875" y="633" width="2" height="1"/><rect x="878" y="628" width="2" height="1"/><rect x="882" y="626" width="1" height="22"/><rect x="880" y="628" width="2" height="1"/><rect x="883" y="629" width="2" height="1"/><rect x="888" y="626" width="1" height="27"/><rect x="886" y="629" width="2" height="1"/><rect x="889" y="651" width="2" height="1"/><rect x="893" y="636" width="1" height="26"/><rect x="891" y="649" width="2" height="1"/><rect x="894" y="639" width="2" height="1"/><rect x="898" y="632" width="1" height="12"/><rect x="896" y="639" width="2" height="1"/><rect x="899" y="638" width="2" height="1"/><rect x="904" y="629" width="1" height="21"/><rect x="902" y="638" width="2" height="1"/><rect x="905" y="635" width="2" height="1"/><rect x="909" y="612" width="1" height="25"/><rect x="907" y="635" width="2" height="1"/><rect x="910" y="615" width="2" height="1"/><rect x="915" y="611" width="1" height="18"/><rect x="913" y="611" width="2" height="1"/><rect x="916" y="624" width="2" height="1"/><rect x="920" y="600" width="1" height="26"/><rect x="918" y="624" width="2" height="1"/><rect x="921" y="609" width="2" height="1"/><rect x="925" y="588" width="1" height="22"/><rect x="923" y="608" width="2" height="1"/><rect x="926" y="590" width="2" height="1"/><rect x="931" y="575" width="1" height="20"/><rect x="929" y="590" width="2" height="1"/><rect x="932" y="586" width="2" height="1"/><rect x="936" y="577" width="1" height="16"/><rect x="934" y="586" width="2" height="1"/><rect x="937" y="584" width="2" height="1"/><rect x="942" y="579" width="1" height="13"/><rect x="940" y="585" width="2" height="1"/><rect x="943" y="590" width="2" height="1"/><rect x="947" y="573" width="1" height="24"/><rect x="945" y="590" width="2" height="1"/><rect x="948" y="575" width="2" height="1"/><rect x="952" y="550" width="1" height="30"/><rect x="950" y="575" width="2" height="1"/><rect x="953" y="557" width="2" height="1"/><rect x="958" y="556" width="1" height="15"/><rect x="956" y="557" width="2" height="1"/><rect x="959" y="561" width="2" height="1"/><rect x="963" y="555" width="1" height="18"/><rect x="961" y="561" width="2" height="1"/><rect x="964" y="557" width="2" height="1"/><rect x="969" y="535" width="1" height="23"/><rect x="967" y="556" width="2" height="1"/><rect x="970" y="549" width="2" height="1"/><rect x="974" y="547" width="1" height="37"/><rect x="972" y="548" width="2" height="1"/><rect x="975" y="576" width="2" height="1"/><rect x="979" y="575" width="1" height="17"/><rect x="977" y="580" width="2" height="1"/><rect x="980" y="576" width="2" height="1"/><rect x="985" y="566" width="1" height="18"/><rect x="983" y="577" width="2" height="1"/><rect x="986" y="573" width="2" height="1"/><rect x="990" y="559" width="1" height="19"/><rect x="988" y="573" width="2" height="1"/><rect x="991" y="565" width="2" height="1"/><rect x="996" y="556" width="1" height="28"/><rect x="994" y="565" width="2" height="1"/><rect x="997" y="577" width="2" height="1"/><rect x="1001" y="574" width="1" height="15"/><rect x="999" y="577" width="2" height="1"/><rect x="1002" y="579" width="2" height="1"/><rect x="1006" y="564" width="1" height="19"/><rect x="1004" y="579" width="2" height="1"/><rect x="1007" y="581" width="2" height="1"/><rect x="1012" y="580" width="1" height="19"/><rect x="1010" y="581" width="2" height="1"/><rect x="1013" y="594" width="2" height="1"/><rect x="1017" y="583" width="1" height="20"/><rect x="1015" y="594" width="2" height="1"/><rect x="1018" y="585" width="2" height="1"/><rect x="1023" y="584" width="1" height="20"/><rect x="1021" y="585" width="2" height="1"/><rect x="1024" y="590" width="2" height="1"/><rect x="1028" y="582" width="1" height="13"/><rect x="1026" y="590" width="2" height="1"/><rect x="1029" y="585" width="2" height="1"/><rect x="1033" y="572" width="1" height="26"/><rect x="1031" y="585" width="2" height="1"/><rect x="1034" y="596" width="2" height="1"/><rect x="1039" y="586" width="1" height="16"/><rect x="1037" y="594" width="2" height="1"/><rect x="1040" y="589" width="2" height="1"/><rect x="1044" y="566" width="1" height="31"/><rect x="1042" y="589" width="2" height="1"/><rect x="1045" y="566" width="2" height="1"/><rect x="1050" y="533" width="1" height="35"/><rect x="1048" y="565" width="2" height="1"/><rect x="1051" y="538" width="2" height="1"/><rect x="1055" y="525" width="1" height="32"/><rect x="1053" y="542" width="2" height="1"/><rect x="1056" y="539" width="2" height="1"/><rect x="1060" y="481" width="1" height="66"/><rect x="1058" y="538" width="2" height="1"/><rect x="1061" y="493" width="2" height="1"/><rect x="1066" y="459" width="1" height="35"/><rect x="1064" y="491" width="2" height="1"/><rect x="1067" y="483" width="2" height="1"/><rect x="1071" y="460" width="1" height="47"/><rect x="1069" y="492" width="2" height="1"/><rect x="1072" y="493" width="2" height="1"/><rect x="1077" y="470" width="1" height="35"/><rect x="1075" y="493" width="2" height="1"/><rect x="1078" y="484" width="2" height="1"/><rect x="1082" y="449" width="1" height="45"/><rect x="1080" y="479" width="2" height="1"/><rect x="1083" y="472" width="2" height="1"/><rect x="1087" y="466" width="1" height="20"/><rect x="1085" y="470" width="2" height="1"/><rect x="1088" y="478" width="2" height="1"/><rect x="1093" y="443" width="1" height="42"/><rect x="1091" y="478" width="2" height="1"/><rect x="1094" y="447" width="2" height="1"/><rect x="1098" y="393" width="1" height="62"/><rect x="1096" y="452" width="2" height="1"/><rect x="1099" y="404" width="2" height="1"/><rect x="1104" y="374" width="1" height="48"/><rect x="1102" y="405" width="2" height="1"/><rect x="1105" y="392" width="2" height="1"/><rect x="1109" y="379" width="1" height="32"/><rect x="1107" y="393" width="2" height="1"/><rect x="1110" y="380" width="2" height="1"/><rect x="1114" y="358" width="1" height="34"/><rect x="1112" y="375" width="2" height="1"/><rect x="1115" y="388" width="2" height="1"/><rect x="1120" y="357" width="1" height="47"/><rect x="1118" y="383" width="2" height="1"/><rect x="1121" y="398" width="2" height="1"/><rect x="1125" y="385" width="1" height="34"/><rect x="1123" y="398" width="2" height="1"/><rect x="1126" y="412" width="2" height="1"/><rect x="1131" y="392" width="1" height="28"/><rect x="1129" y="401" width="2" height="1"/><rect x="1132" y="399" width="2" height="1"/><rect x="1136" y="376" width="1" height="42"/><rect x="1134" y="394" width="2" height="1"/><rect x="1137" y="407" width="2" height="1"/><rect x="1141" y="391" width="1" height="50"/><rect x="1139" y="410" width="2" height="1"/><rect x="1142" y="401" width="2" height="1"/><rect x="1147" y="393" width="1" height="38"/><rect x="1145" y="397" width="2" height="1"/><rect x="1148" y="421" width="2" height="1"/><rect x="1152" y="409" width="1" height="20"/><rect x="1150" y="418" width="2" height="1"/><rect x="1153" y="416" width="2" height="1"/><rect x="1158" y="395" width="1" height="31"/><rect x="1156" y="415" width="2" height="1"/><rect x="1159" y="407" width="2" height="1"/><rect x="1163" y="396" width="1" height="31"/><rect x="1161" y="407" width="2" height="1"/><rect x="1164" y="402" width="2" height="1"/><rect x="1168" y="398" width="1" height="50"/><rect x="1166" y="398" width="2" height="1"/><rect x="1169" y="442" width="2" height="1"/><rect x="1174" y="432" width="1" height="24"/><rect x="1172" y="445" width="2" height="1"/><rect x="1175" y="438" width="2" height="1"/><rect x="1179" y="429" width="1" height="19"/><rect x="1177" y="438" width="2" height="1"/><rect x="1180" y="444" width="2" height="1"/><rect x="1185" y="434" width="1" height="19"/><rect x="1183" y="444" width="2" height="1"/><rect x="1186" y="435" width="2" height="1"/><rect x="1190" y="420" width="1" height="26"/><rect x="1188" y="436" width="2" height="1"/><rect x="1191" y="440" width="2" height="1"/><rect x="1195" y="419" width="1" height="24"/><rect x="1193" y="441" width="2" height="1"/><rect x="1196" y="427" width="2" height="1"/><rect x="1201" y="423" width="1" height="11"/><rect x="1199" y="428" width="2" height="1"/><rect x="1202" y="427" width="2" height="1"/><rect x="1206" y="395" width="1" height="33"/><rect x="1204" y="426" width="2" height="1"/><rect x="1207" y="399" width="2" height="1"/><rect x="1212" y="365" width="1" height="37"/><rect x="1210" y="399" width="2" height="1"/><rect x="1213" y="369" width="2" height="1"/><rect x="1217" y="319" width="1" height="60"/><rect x="1215" y="360" width="2" height="1"/><rect x="1218" y="362" width="2" height="1"/><rect x="1222" y="360" width="1" height="23"/><rect x="1220" y="360" width="2" height="1"/><rect x="1223" y="362" width="2" height="1"/><rect x="1228" y="350" width="1" height="25"/><rect x="1226" y="365" width="2" height="1"/><rect x="1229" y="353" width="2" height="1"/><rect x="1233" y="333" width="1" height="29"/><rect x="1231" y="346" width="2" height="1"/><rect x="1234" y="340" width="2" height="1"/><rect x="1239" y="331" width="1" height="40"/><rect x="1237" y="332" width="2" height="1"/><rect x="1240" y="352" width="2" height="1"/><rect x="1244" y="339" width="1" height="21"/><rect x="1242" y="350" width="2" height="1"/><rect x="1245" y="341" width="2" height="1"/><rect x="1249" y="287" width="1" height="58"/><rect x="1247" y="342" width="2" height="1"/><rect x="1250" y="290" width="2" height="1"/><rect x="1255" y="255" width="1" height="105"/><rect x="1253" y="284" width="2" height="1"/><rect x="1256" y="357" width="2" height="1"/><rect x="1260" y="254" width="1" height="96"/><rect x="1258" y="336" width="2" height="1"/><rect x="1261" y="270" width="2" height="1"/><rect x="1266" y="244" width="1" height="165"/><rect x="1264" y="254" width="2" height="1"/><rect x="1267" y="398" width="2" height="1"/><rect x="1271" y="350" width="1" height="103"/><rect x="1269" y="359" width="2" height="1"/><rect x="1272" y="424" width="2" height="1"/><rect x="1276" y="248" width="1" height="177"/><rect x="1274" y="408" width="2" height="1"/><rect x="1277" y="285" width="2" height="1"/><rect x="1282" y="269" width="1" height="81"/><rect x="1280" y="278" width="2" height="1"/><rect x="1283" y="292" width="2" height="1"/><rect x="1287" y="203" width="1" height="96"/><rect x="1285" y="291" width="2" height="1"/><rect x="1288" y="204" width="2" height="1"/><rect x="1293" y="175" width="1" height="81"/><rect x="1291" y="213" width="2" height="1"/><rect x="1294" y="249" width="2" height="1"/><rect x="1298" y="195" width="1" height="81"/><rect x="1296" y="254" width="2" height="1"/><rect x="1299" y="219" width="2" height="1"/><rect x="1303" y="210" width="1" height="58"/><rect x="1301" y="211" width="2" height="1"/><rect x="1304" y="247" width="2" height="1"/><rect x="1309" y="219" width="1" height="44"/><rect x="1307" y="239" width="2" height="1"/><rect x="1310" y="236" width="2" height="1"/><rect x="1314" y="198" width="1" height="57"/><rect x="1312" y="243" width="2" height="1"/><rect x="1315" y="201" width="2" height="1"/><rect x="1320" y="186" width="1" height="50"/><rect x="1318" y="201" width="2" height="1"/><rect x="1321" y="219" width="2" height="1"/><rect x="1325" y="203" width="1" height="46"/><rect x="1323" y="219" width="2" height="1"/><rect x="1326" y="205" width="2" height="1"/><rect x="1330" y="198" width="1" height="74"/><rect x="1328" y="207" width="2" height="1"/><rect x="1331" y="262" width="2" height="1"/><rect x="1336" y="203" width="1" height="62"/><rect x="1334" y="259" width="2" height="1"/><rect x="1337" y="217" width="2" height="1"/><rect x="1341" y="198" width="1" height="46"/><rect x="1339" y="214" width="2" height="1"/><rect x="1342" y="204" width="2" height="1"/><rect x="1347" y="169" width="1" height="36"/><rect x="1345" y="194" width="2" height="1"/><rect x="1348" y="182" width="2" height="1"/><rect x="1352" y="162" width="1" height="25"/><rect x="1350" y="175" width="2" height="1"/><rect x="1353" y="165" width="2" height="1"/></g>
<rect x="17" y="156" width="158" height="14" fill="#fff"/><rect x="807" y="52" width="345" height="51" fill="#c8c8c8"/><rect x="804.5" y="49.5" width="345" height="51" fill="#fff" stroke="#888" stroke-width="1"/><rect x="904" y="108" width="183" height="30" fill="#c8c8c8"/><rect x="901.5" y="105.5" width="183" height="30" fill="#fff" stroke="#888" stroke-width="1"/><g shape-rendering="auto" stroke="#f00" stroke-width="1.2" fill="none"><path d="M585 566.4L628.8 575.6M591.1 609.6L628.8 596"/></g><g shape-rendering="auto"><path d="M1352.3 198.5L1386.3 103.5" stroke="#0d6b35" stroke-width="1.1" stroke-dasharray="3 2.4" fill="none"/><path d="M1390.6 93 L1392.2 105 L1381.2 100.6 Z" fill="#0d6b35"/></g><path d="M1514.3 24.8L1521 24.8L1517.6 20.8Z" fill="#2a6a2a" shape-rendering="auto"/><g fill="#000"><rect x="20" y="158" width="1" height="6"/><rect x="19" y="159" width="1" height="1"/><rect x="21" y="162" width="1" height="1"/><rect x="23" y="158" width="1" height="9"/><rect x="22" y="164" width="1" height="1"/><rect x="24" y="161" width="1" height="1"/><rect x="22" y="165" width="3" height="1"/><rect x="27" y="158" width="1" height="7"/><rect x="26" y="159" width="1" height="1"/><rect x="28" y="162" width="1" height="1"/></g>
<g id="labels" font-family='"Liberation Sans", Arial, sans-serif' shape-rendering="auto"><text x="64.0" y="728.9" font-size="10.67" text-anchor="middle" font-weight="bold" fill="#0000f5" textLength="39.6" lengthAdjust="spacingAndGlyphs" stroke="#0000f5" stroke-width="0.3">1088.30</text><text x="62.2" y="746.0" font-size="13.33" text-anchor="middle" font-weight="bold" fill="#0000f5" textLength="11.8" lengthAdjust="spacingAndGlyphs" stroke="#0000f5" stroke-width="0.3">.i.</text><text x="139.9" y="562.8" font-size="10.67" text-anchor="middle" font-weight="bold" fill="#0000f5" textLength="39.4" lengthAdjust="spacingAndGlyphs" stroke="#0000f5" stroke-width="0.3">1287.50</text><text x="142.1" y="581.9" font-size="13.33" text-anchor="middle" font-weight="bold" fill="#0000f5" textLength="20.0" lengthAdjust="spacingAndGlyphs" stroke="#0000f5" stroke-width="0.3">.iii.</text><text x="200.4" y="671.0" font-size="13.33" text-anchor="middle" font-weight="bold" fill="#0000f5" textLength="18.6" lengthAdjust="spacingAndGlyphs" stroke="#0000f5" stroke-width="0.3">.iv.</text><text x="205.0" y="688.2" font-size="10.67" text-anchor="middle" font-weight="bold" fill="#0000f5" textLength="39.4" lengthAdjust="spacingAndGlyphs" stroke="#0000f5" stroke-width="0.3">1201.50</text><text x="232.0" y="476.9" font-size="10.67" text-anchor="middle" font-weight="bold" fill="#0000f5" textLength="39.4" lengthAdjust="spacingAndGlyphs" stroke="#0000f5" stroke-width="0.3">1377.50</text><text x="229.5" y="493.5" font-size="13.33" text-anchor="middle" font-weight="bold" fill="#0000f5" textLength="12.7" lengthAdjust="spacingAndGlyphs" stroke="#0000f5" stroke-width="0.3">-i-</text><text x="230.5" y="508.1" font-size="13.33" text-anchor="middle" font-weight="bold" fill="#0000f5" textLength="14.8" lengthAdjust="spacingAndGlyphs" stroke="#0000f5" stroke-width="0.3">.v.</text><text x="263.9" y="497.0" font-size="10.67" text-anchor="middle" font-weight="bold" fill="#0000f5" textLength="39.4" lengthAdjust="spacingAndGlyphs" stroke="#0000f5" stroke-width="0.3">1347.80</text><text x="253.1" y="513.1" font-size="13.33" text-anchor="middle" font-weight="bold" fill="#0000f5" textLength="15.5" lengthAdjust="spacingAndGlyphs" stroke="#0000f5" stroke-width="0.3">.b.</text><text x="242.0" y="583.8" font-size="13.33" text-anchor="middle" font-weight="bold" fill="#0000f5" textLength="15.5" lengthAdjust="spacingAndGlyphs" stroke="#0000f5" stroke-width="0.3">.a.</text><text x="241.9" y="596.8" font-size="10.67" text-anchor="middle" font-weight="bold" fill="#0000f5" textLength="39.4" lengthAdjust="spacingAndGlyphs" stroke="#0000f5" stroke-width="0.3">1311.00</text><text x="329.0" y="520.9" font-size="10.67" text-anchor="middle" font-weight="bold" fill="#0000f5" textLength="39.4" lengthAdjust="spacingAndGlyphs" stroke="#0000f5" stroke-width="0.3">1338.30</text><text x="328.9" y="538.9" font-size="10.67" text-anchor="middle" font-weight="bold" fill="#0000f5" textLength="15.6" lengthAdjust="spacingAndGlyphs" stroke="#0000f5" stroke-width="0.3">*ii*</text><text x="300.3" y="641.3" font-size="10.67" text-anchor="middle" font-weight="bold" fill="#0000f5" textLength="12.3" lengthAdjust="spacingAndGlyphs" stroke="#0000f5" stroke-width="0.3">*i*</text><text x="296.0" y="655.0" font-size="10.67" text-anchor="middle" font-weight="bold" fill="#0000f5" textLength="39.4" lengthAdjust="spacingAndGlyphs" stroke="#0000f5" stroke-width="0.3">1243.20</text><text x="361.0" y="641.5" font-size="10.67" text-anchor="middle" font-weight="bold" fill="#0000f5" textLength="39.4" lengthAdjust="spacingAndGlyphs" stroke="#0000f5" stroke-width="0.3">1197.70</text><text x="351.3" y="655.6" font-size="10.67" text-anchor="middle" font-weight="bold" fill="#0000f5" textLength="18.8" lengthAdjust="spacingAndGlyphs" stroke="#0000f5" stroke-width="0.3">*iv*</text><text x="335.7" y="696.0" font-size="10.67" text-anchor="middle" font-weight="bold" fill="#0000f5" textLength="18.4" lengthAdjust="spacingAndGlyphs" stroke="#0000f5" stroke-width="0.3">*iii*</text><text x="323.0" y="711.6" font-size="10.67" text-anchor="middle" font-weight="bold" fill="#0000f5" textLength="39.4" lengthAdjust="spacingAndGlyphs" stroke="#0000f5" stroke-width="0.3">1170.30</text><text x="356.0" y="732.9" font-size="10.67" text-anchor="middle" font-weight="bold" fill="#0000f5" textLength="15.5" lengthAdjust="spacingAndGlyphs" stroke="#0000f5" stroke-width="0.3">*v*</text><text x="354.0" y="744.5" font-size="13.33" text-anchor="middle" font-weight="bold" fill="#0000f5" textLength="13.5" lengthAdjust="spacingAndGlyphs" stroke="#0000f5" stroke-width="0.3">.c.</text><text x="356.2" y="761.2" font-size="13.33" text-anchor="middle" font-weight="bold" fill="#0000f5" textLength="17.3" lengthAdjust="spacingAndGlyphs" stroke="#0000f5" stroke-width="0.3">-ii-</text><text x="356.0" y="772.1" font-size="10.67" text-anchor="middle" font-weight="bold" fill="#0000f5" textLength="39.4" lengthAdjust="spacingAndGlyphs" stroke="#0000f5" stroke-width="0.3">1124.30</text><text x="448.0" y="555.6" font-size="10.67" text-anchor="middle" font-weight="bold" fill="#0000f5" textLength="39.4" lengthAdjust="spacingAndGlyphs" stroke="#0000f5" stroke-width="0.3">1297.40</text><text x="451.0" y="571.8" font-size="13.33" text-anchor="middle" font-weight="bold" fill="#0000f5" textLength="11.7" lengthAdjust="spacingAndGlyphs" stroke="#0000f5" stroke-width="0.3">.i.</text><text x="491.0" y="555.6" font-size="10.67" text-anchor="middle" font-weight="bold" fill="#0000f5" textLength="39.4" lengthAdjust="spacingAndGlyphs" stroke="#0000f5" stroke-width="0.3">1298.80</text><text x="491.7" y="569.8" font-size="12" text-anchor="middle" font-weight="bold" fill="#0000f5" textLength="16.5" lengthAdjust="spacingAndGlyphs" stroke="#0000f5" stroke-width="0.3">*b*</text><text x="470.0" y="658.5" font-size="13.33" text-anchor="middle" font-weight="bold" fill="#0000f5" textLength="19.4" lengthAdjust="spacingAndGlyphs" stroke="#0000f5" stroke-width="0.3">*a*</text><text x="468.9" y="673.6" font-size="10.67" text-anchor="middle" font-weight="bold" fill="#0000f5" textLength="39.4" lengthAdjust="spacingAndGlyphs" stroke="#0000f5" stroke-width="0.3">1214.30</text><text x="518.8" y="667.8" font-size="13.33" text-anchor="middle" font-weight="bold" fill="#0000f5" textLength="18.3" lengthAdjust="spacingAndGlyphs" stroke="#0000f5" stroke-width="0.3">*c*</text><text x="517.8" y="681.7" font-size="10.67" text-anchor="middle" font-weight="bold" fill="#0000f5" textLength="39.4" lengthAdjust="spacingAndGlyphs" stroke="#0000f5" stroke-width="0.3">1204.00</text><text x="556.0" y="497.9" font-size="10.67" text-anchor="middle" font-weight="bold" fill="#0000f5" textLength="39.4" lengthAdjust="spacingAndGlyphs" stroke="#0000f5" stroke-width="0.3">1362.40</text><text x="556.0" y="515.8" font-size="13.33" text-anchor="middle" font-weight="bold" fill="#0000f5" textLength="19.6" lengthAdjust="spacingAndGlyphs" stroke="#0000f5" stroke-width="0.3">*x*</text><text x="636.4" y="641.5" font-size="12" text-anchor="middle" font-weight="bold" fill="#0000f5" textLength="16.9" lengthAdjust="spacingAndGlyphs" stroke="#0000f5" stroke-width="0.3">*a*</text><text x="637.0" y="656.0" font-size="10.67" text-anchor="middle" font-weight="bold" fill="#0000f5" textLength="39.4" lengthAdjust="spacingAndGlyphs" stroke="#0000f5" stroke-width="0.3">1238.30</text><text x="728.0" y="495.0" font-size="10.67" text-anchor="middle" font-weight="bold" fill="#0000f5" textLength="39.4" lengthAdjust="spacingAndGlyphs" stroke="#0000f5" stroke-width="0.3">1369.40</text><text x="728.5" y="510.4" font-size="12" text-anchor="middle" font-weight="bold" fill="#0000f5" textLength="16.8" lengthAdjust="spacingAndGlyphs" stroke="#0000f5" stroke-width="0.3">*b*</text><text x="825.6" y="697.6" font-size="13.33" text-anchor="middle" font-weight="bold" fill="#0000f5" textLength="18.6" lengthAdjust="spacingAndGlyphs" stroke="#0000f5" stroke-width="0.3">*c*</text><text x="825.1" y="712.9" font-size="13.33" text-anchor="middle" font-weight="bold" fill="#0000f5" textLength="15.6" lengthAdjust="spacingAndGlyphs" stroke="#0000f5" stroke-width="0.3">.ii.</text><text x="826.0" y="727.5" font-size="10.67" text-anchor="middle" font-weight="bold" fill="#0000f5" textLength="39.4" lengthAdjust="spacingAndGlyphs" stroke="#0000f5" stroke-width="0.3">1167.10</text><text x="966.0" y="514.1" font-size="10.67" text-anchor="middle" font-weight="bold" fill="#0000f5" textLength="39.4" lengthAdjust="spacingAndGlyphs" stroke="#0000f5" stroke-width="0.3">1349.80</text><text x="967.0" y="528.2" font-size="13.33" text-anchor="middle" font-weight="bold" fill="#0000f5" textLength="19.1" lengthAdjust="spacingAndGlyphs" stroke="#0000f5" stroke-width="0.3">^i^</text><text x="1023.0" y="618.4" font-size="13.33" text-anchor="middle" font-weight="bold" fill="#0000f5" textLength="23.2" lengthAdjust="spacingAndGlyphs" stroke="#0000f5" stroke-width="0.3">^ii^</text><text x="1025.0" y="633.7" font-size="10.67" text-anchor="middle" font-weight="bold" fill="#0000f5" textLength="39.4" lengthAdjust="spacingAndGlyphs" stroke="#0000f5" stroke-width="0.3">1267.30</text><text x="1112.0" y="332.0" font-size="10.67" text-anchor="middle" font-weight="bold" fill="#0000f5" textLength="39.2" lengthAdjust="spacingAndGlyphs" stroke="#0000f5" stroke-width="0.3">1565.00</text><text x="1117.0" y="348.6" font-size="13.33" text-anchor="middle" font-weight="bold" fill="#0000f5" textLength="27.2" lengthAdjust="spacingAndGlyphs" stroke="#0000f5" stroke-width="0.3">^iii^</text><text x="1175.3" y="469.3" font-size="13.33" text-anchor="middle" font-weight="bold" fill="#0000f5" textLength="26.1" lengthAdjust="spacingAndGlyphs" stroke="#0000f5" stroke-width="0.3">^iv^</text><text x="1176.8" y="484.6" font-size="10.67" text-anchor="middle" font-weight="bold" fill="#0000f5" textLength="39.4" lengthAdjust="spacingAndGlyphs" stroke="#0000f5" stroke-width="0.3">1446.00</text><text x="1252.0" y="215.9" font-size="10.67" text-anchor="middle" font-weight="bold" fill="#0000f5" textLength="39.3" lengthAdjust="spacingAndGlyphs" stroke="#0000f5" stroke-width="0.3">1691.70</text><text x="1252.3" y="231.4" font-size="10.67" text-anchor="middle" font-weight="bold" fill="#0000f5" textLength="16.5" lengthAdjust="spacingAndGlyphs" stroke="#0000f5" stroke-width="0.3">$i$</text><text x="1254.2" y="245.5" font-size="13.33" text-anchor="middle" font-weight="bold" fill="#0000f5" textLength="21.8" lengthAdjust="spacingAndGlyphs" stroke="#0000f5" stroke-width="0.3">^v^</text><text x="1268.4" y="465.6" font-size="10.67" text-anchor="middle" font-weight="bold" fill="#0000f5" textLength="18.2" lengthAdjust="spacingAndGlyphs" stroke="#0000f5" stroke-width="0.3">$ii$</text><text x="1268.0" y="481.0" font-size="10.67" text-anchor="middle" font-weight="bold" fill="#0000f5" textLength="39.4" lengthAdjust="spacingAndGlyphs" stroke="#0000f5" stroke-width="0.3">1457.50</text><text x="1400.0" y="43.9" font-size="13.33" text-anchor="middle" font-weight="bold" fill="#0000f5" textLength="19.7" lengthAdjust="spacingAndGlyphs" stroke="#0000f5" stroke-width="0.3">.iii.</text><text x="1391.5" y="61.6" font-size="10.67" text-anchor="middle" font-weight="bold" fill="#0000f5" textLength="102.4" lengthAdjust="spacingAndGlyphs" stroke="#0000f5" stroke-width="0.3">.iii.=1.618.i.=2306.30</text><text x="1400.0" y="82.9" font-size="10.67" text-anchor="middle" font-weight="bold" fill="#0000f5" textLength="21.5" lengthAdjust="spacingAndGlyphs" stroke="#0000f5" stroke-width="0.3">$iii$</text><text x="26.3" y="835.9" font-size="10.67" text-anchor="middle" font-weight="bold" fill="#0000f5" textLength="39.3" lengthAdjust="spacingAndGlyphs" stroke="#0000f5" stroke-width="0.3">1045.40</text><text x="75.0" y="814.0" font-size="13.33" text-anchor="middle" font-weight="bold" fill="#0000f5" textLength="15.8" lengthAdjust="spacingAndGlyphs" stroke="#0000f5" stroke-width="0.3">.ii.</text><text x="74.9" y="828.8" font-size="10.67" text-anchor="middle" font-weight="bold" fill="#0000f5" textLength="39.4" lengthAdjust="spacingAndGlyphs" stroke="#0000f5" stroke-width="0.3">1046.80</text><text x="1.8" y="818.6" font-size="15.5" text-anchor="start" font-weight="bold" fill="#0000f5" textLength="50" lengthAdjust="spacingAndGlyphs">(2) of 3</text><text x="16.5" y="13.4" font-size="12.5" text-anchor="start" font-weight="bold" fill="#000" textLength="42.5" lengthAdjust="spacingAndGlyphs">$GOLD</text><text x="63.9" y="13.4" font-size="11" text-anchor="start" font-weight="normal" fill="#000" textLength="161" lengthAdjust="spacingAndGlyphs">Gold - Continuous Contract (EOD)</text><text x="230.8" y="13.4" font-size="9" text-anchor="start" font-weight="normal" fill="#000" textLength="21.5" lengthAdjust="spacingAndGlyphs">CME</text><text x="16.1" y="25.9" font-size="10.3" text-anchor="start" font-weight="normal" fill="#000" textLength="57.8" lengthAdjust="spacingAndGlyphs">30-Jun-2020</text><text x="1521.2" y="12.5" font-size="10.5" text-anchor="end" font-weight="normal" fill="#444" textLength="89" lengthAdjust="spacingAndGlyphs" font-family='"DejaVu Sans", "Liberation Sans", sans-serif'>© StockCharts.com</text><text x="1024.7" y="25.6" font-size="10.5" text-anchor="start" font-weight="bold" fill="#000" textLength="28.8" lengthAdjust="spacingAndGlyphs">Open</text><text x="1057.4" y="25.6" font-size="10.5" text-anchor="start" font-weight="normal" fill="#000" textLength="38.2" lengthAdjust="spacingAndGlyphs">1789.20</text><text x="1101.6" y="25.6" font-size="10.5" text-anchor="start" font-weight="bold" fill="#000" textLength="24.0" lengthAdjust="spacingAndGlyphs">High</text><text x="1129.5" y="25.6" font-size="10.5" text-anchor="start" font-weight="normal" fill="#000" textLength="38.5" lengthAdjust="spacingAndGlyphs">1804.00</text><text x="1173.7" y="25.6" font-size="10.5" text-anchor="start" font-weight="bold" fill="#000" textLength="23.9" lengthAdjust="spacingAndGlyphs">Low</text><text x="1201.4" y="25.6" font-size="10.5" text-anchor="start" font-weight="normal" fill="#000" textLength="38.5" lengthAdjust="spacingAndGlyphs">1774.80</text><text x="1245.8" y="25.6" font-size="10.5" text-anchor="start" font-weight="bold" fill="#000" textLength="31.7" lengthAdjust="spacingAndGlyphs">Close</text><text x="1281.0" y="25.6" font-size="10.5" text-anchor="start" font-weight="normal" fill="#000" textLength="38.2" lengthAdjust="spacingAndGlyphs">1800.50</text><text x="1326.1" y="25.6" font-size="10.5" text-anchor="start" font-weight="bold" fill="#000" textLength="42.2" lengthAdjust="spacingAndGlyphs">Volume</text><text x="1371.8" y="25.6" font-size="10.5" text-anchor="start" font-weight="normal" fill="#000" textLength="30.1" lengthAdjust="spacingAndGlyphs">32.2M</text><text x="1408.1" y="25.6" font-size="10.5" text-anchor="start" font-weight="bold" fill="#000" textLength="21.5" lengthAdjust="spacingAndGlyphs">Chg</text><text x="1433.1" y="25.6" font-size="10.5" text-anchor="start" font-weight="normal" fill="#000" textLength="78.8" lengthAdjust="spacingAndGlyphs">+20.20 (+1.13%)</text><text x="31.9" y="166.1" font-size="9.4" fill="#000" textLength="142" lengthAdjust="spacing" font-family='"DejaVu Sans", "Liberation Sans", sans-serif'>$GOLD (Weekly) 1800.50</text><text x="1525.7" y="168.8" font-size="10" text-anchor="start" font-weight="normal" fill="#000" textLength="22.4" lengthAdjust="spacingAndGlyphs">1800</text><text x="1525.7" y="188.8" font-size="10" text-anchor="start" font-weight="normal" fill="#000" textLength="22.4" lengthAdjust="spacingAndGlyphs">1775</text><text x="1525.7" y="209.8" font-size="10" text-anchor="start" font-weight="normal" fill="#000" textLength="22.4" lengthAdjust="spacingAndGlyphs">1750</text><text x="1525.7" y="229.8" font-size="10" text-anchor="start" font-weight="normal" fill="#000" textLength="22.4" lengthAdjust="spacingAndGlyphs">1725</text><text x="1525.7" y="250.8" font-size="10" text-anchor="start" font-weight="normal" fill="#000" textLength="22.4" lengthAdjust="spacingAndGlyphs">1700</text><text x="1525.7" y="270.8" font-size="10" text-anchor="start" font-weight="normal" fill="#000" textLength="22.4" lengthAdjust="spacingAndGlyphs">1675</text><text x="1525.7" y="291.8" font-size="10" text-anchor="start" font-weight="normal" fill="#000" textLength="22.4" lengthAdjust="spacingAndGlyphs">1650</text><text x="1525.7" y="311.8" font-size="10" text-anchor="start" font-weight="normal" fill="#000" textLength="22.4" lengthAdjust="spacingAndGlyphs">1625</text><text x="1525.7" y="332.8" font-size="10" text-anchor="start" font-weight="normal" fill="#000" textLength="22.4" lengthAdjust="spacingAndGlyphs">1600</text><text x="1525.7" y="352.8" font-size="10" text-anchor="start" font-weight="normal" fill="#000" textLength="22.4" lengthAdjust="spacingAndGlyphs">1575</text><text x="1525.7" y="373.8" font-size="10" text-anchor="start" font-weight="normal" fill="#000" textLength="22.4" lengthAdjust="spacingAndGlyphs">1550</text><text x="1525.7" y="393.8" font-size="10" text-anchor="start" font-weight="normal" fill="#000" textLength="22.4" lengthAdjust="spacingAndGlyphs">1525</text><text x="1525.7" y="414.8" font-size="10" text-anchor="start" font-weight="normal" fill="#000" textLength="22.4" lengthAdjust="spacingAndGlyphs">1500</text><text x="1525.7" y="434.8" font-size="10" text-anchor="start" font-weight="normal" fill="#000" textLength="22.4" lengthAdjust="spacingAndGlyphs">1475</text><text x="1525.7" y="455.8" font-size="10" text-anchor="start" font-weight="normal" fill="#000" textLength="22.4" lengthAdjust="spacingAndGlyphs">1450</text><text x="1525.7" y="475.8" font-size="10" text-anchor="start" font-weight="normal" fill="#000" textLength="22.4" lengthAdjust="spacingAndGlyphs">1425</text><text x="1525.7" y="496.8" font-size="10" text-anchor="start" font-weight="normal" fill="#000" textLength="22.4" lengthAdjust="spacingAndGlyphs">1400</text><text x="1525.7" y="516.8" font-size="10" text-anchor="start" font-weight="normal" fill="#000" textLength="22.4" lengthAdjust="spacingAndGlyphs">1375</text><text x="1525.7" y="537.8" font-size="10" text-anchor="start" font-weight="normal" fill="#000" textLength="22.4" lengthAdjust="spacingAndGlyphs">1350</text><text x="1525.7" y="557.8" font-size="10" text-anchor="start" font-weight="normal" fill="#000" textLength="22.4" lengthAdjust="spacingAndGlyphs">1325</text><text x="1525.7" y="578.8" font-size="10" text-anchor="start" font-weight="normal" fill="#000" textLength="22.4" lengthAdjust="spacingAndGlyphs">1300</text><text x="1525.7" y="598.8" font-size="10" text-anchor="start" font-weight="normal" fill="#000" textLength="22.4" lengthAdjust="spacingAndGlyphs">1275</text><text x="1525.7" y="619.8" font-size="10" text-anchor="start" font-weight="normal" fill="#000" textLength="22.4" lengthAdjust="spacingAndGlyphs">1250</text><text x="1525.7" y="639.8" font-size="10" text-anchor="start" font-weight="normal" fill="#000" textLength="22.4" lengthAdjust="spacingAndGlyphs">1225</text><text x="1525.7" y="660.8" font-size="10" text-anchor="start" font-weight="normal" fill="#000" textLength="22.4" lengthAdjust="spacingAndGlyphs">1200</text><text x="1525.7" y="680.8" font-size="10" text-anchor="start" font-weight="normal" fill="#000" textLength="22.4" lengthAdjust="spacingAndGlyphs">1175</text><text x="1525.7" y="701.8" font-size="10" text-anchor="start" font-weight="normal" fill="#000" textLength="22.4" lengthAdjust="spacingAndGlyphs">1150</text><text x="1525.7" y="721.8" font-size="10" text-anchor="start" font-weight="normal" fill="#000" textLength="22.4" lengthAdjust="spacingAndGlyphs">1125</text><text x="1525.7" y="742.8" font-size="10" text-anchor="start" font-weight="normal" fill="#000" textLength="22.4" lengthAdjust="spacingAndGlyphs">1100</text><text x="1525.7" y="762.8" font-size="10" text-anchor="start" font-weight="normal" fill="#000" textLength="22.4" lengthAdjust="spacingAndGlyphs">1075</text><text x="1525.7" y="783.8" font-size="10" text-anchor="start" font-weight="normal" fill="#000" textLength="22.4" lengthAdjust="spacingAndGlyphs">1050</text><text x="18.7" y="801.9" font-size="10" text-anchor="middle" font-weight="normal" fill="#000">Oct</text><text x="18.7" y="879.9" font-size="10" text-anchor="middle" font-weight="normal" fill="#000">Oct</text><text x="40.3" y="801.9" font-size="10" text-anchor="middle" font-weight="normal" fill="#000">Nov</text><text x="40.3" y="879.9" font-size="10" text-anchor="middle" font-weight="normal" fill="#000">Nov</text><text x="88.10000000000001" y="801.9" font-size="11" text-anchor="middle" font-weight="bold" fill="#000" textLength="23.2" lengthAdjust="spacingAndGlyphs">2016</text><text x="88.10000000000001" y="879.9" font-size="11" text-anchor="middle" font-weight="bold" fill="#000" textLength="23.2" lengthAdjust="spacingAndGlyphs">2016</text><text x="110.5" y="801.9" font-size="10" text-anchor="middle" font-weight="normal" fill="#000">Feb</text><text x="110.5" y="879.9" font-size="10" text-anchor="middle" font-weight="normal" fill="#000">Feb</text><text x="137.5" y="801.9" font-size="10" text-anchor="middle" font-weight="normal" fill="#000">Mar</text><text x="137.5" y="879.9" font-size="10" text-anchor="middle" font-weight="normal" fill="#000">Mar</text><text x="159.1" y="801.9" font-size="10" text-anchor="middle" font-weight="normal" fill="#000">Apr</text><text x="159.1" y="879.9" font-size="10" text-anchor="middle" font-weight="normal" fill="#000">Apr</text><text x="180.7" y="801.9" font-size="10" text-anchor="middle" font-weight="normal" fill="#000">May</text><text x="180.7" y="879.9" font-size="10" text-anchor="middle" font-weight="normal" fill="#000">May</text><text x="207.7" y="801.9" font-size="10" text-anchor="middle" font-weight="normal" fill="#000">Jun</text><text x="207.7" y="879.9" font-size="10" text-anchor="middle" font-weight="normal" fill="#000">Jun</text><text x="229.3" y="801.9" font-size="10" text-anchor="middle" font-weight="normal" fill="#000">Jul</text><text x="229.3" y="879.9" font-size="10" text-anchor="middle" font-weight="normal" fill="#000">Jul</text><text x="250.9" y="801.9" font-size="10" text-anchor="middle" font-weight="normal" fill="#000">Aug</text><text x="250.9" y="879.9" font-size="10" text-anchor="middle" font-weight="normal" fill="#000">Aug</text><text x="277.9" y="801.9" font-size="10" text-anchor="middle" font-weight="normal" fill="#000">Sep</text><text x="277.9" y="879.9" font-size="10" text-anchor="middle" font-weight="normal" fill="#000">Sep</text><text x="299.5" y="801.9" font-size="10" text-anchor="middle" font-weight="normal" fill="#000">Oct</text><text x="299.5" y="879.9" font-size="10" text-anchor="middle" font-weight="normal" fill="#000">Oct</text><text x="326.5" y="801.9" font-size="10" text-anchor="middle" font-weight="normal" fill="#000">Nov</text><text x="326.5" y="879.9" font-size="10" text-anchor="middle" font-weight="normal" fill="#000">Nov</text><text x="368.9" y="801.9" font-size="11" text-anchor="middle" font-weight="bold" fill="#000" textLength="23.2" lengthAdjust="spacingAndGlyphs">2017</text><text x="368.9" y="879.9" font-size="11" text-anchor="middle" font-weight="bold" fill="#000" textLength="23.2" lengthAdjust="spacingAndGlyphs">2017</text><text x="396.7" y="801.9" font-size="10" text-anchor="middle" font-weight="normal" fill="#000">Feb</text><text x="396.7" y="879.9" font-size="10" text-anchor="middle" font-weight="normal" fill="#000">Feb</text><text x="418.3" y="801.9" font-size="10" text-anchor="middle" font-weight="normal" fill="#000">Mar</text><text x="418.3" y="879.9" font-size="10" text-anchor="middle" font-weight="normal" fill="#000">Mar</text><text x="439.9" y="801.9" font-size="10" text-anchor="middle" font-weight="normal" fill="#000">Apr</text><text x="439.9" y="879.9" font-size="10" text-anchor="middle" font-weight="normal" fill="#000">Apr</text><text x="461.5" y="801.9" font-size="10" text-anchor="middle" font-weight="normal" fill="#000">May</text><text x="461.5" y="879.9" font-size="10" text-anchor="middle" font-weight="normal" fill="#000">May</text><text x="488.5" y="801.9" font-size="10" text-anchor="middle" font-weight="normal" fill="#000">Jun</text><text x="488.5" y="879.9" font-size="10" text-anchor="middle" font-weight="normal" fill="#000">Jun</text><text x="510.1" y="801.9" font-size="10" text-anchor="middle" font-weight="normal" fill="#000">Jul</text><text x="510.1" y="879.9" font-size="10" text-anchor="middle" font-weight="normal" fill="#000">Jul</text><text x="537.1" y="801.9" font-size="10" text-anchor="middle" font-weight="normal" fill="#000">Aug</text><text x="537.1" y="879.9" font-size="10" text-anchor="middle" font-weight="normal" fill="#000">Aug</text><text x="558.7" y="801.9" font-size="10" text-anchor="middle" font-weight="normal" fill="#000">Sep</text><text x="558.7" y="879.9" font-size="10" text-anchor="middle" font-weight="normal" fill="#000">Sep</text><text x="580.3" y="801.9" font-size="10" text-anchor="middle" font-weight="normal" fill="#000">Oct</text><text x="580.3" y="879.9" font-size="10" text-anchor="middle" font-weight="normal" fill="#000">Oct</text><text x="607.3" y="801.9" font-size="10" text-anchor="middle" font-weight="normal" fill="#000">Nov</text><text x="607.3" y="879.9" font-size="10" text-anchor="middle" font-weight="normal" fill="#000">Nov</text><text x="628.9" y="801.9" font-size="10" text-anchor="middle" font-weight="normal" fill="#000">Dec</text><text x="628.9" y="879.9" font-size="10" text-anchor="middle" font-weight="normal" fill="#000">Dec</text><text x="649.7" y="801.9" font-size="11" text-anchor="middle" font-weight="bold" fill="#000" textLength="23.2" lengthAdjust="spacingAndGlyphs">2018</text><text x="649.7" y="879.9" font-size="11" text-anchor="middle" font-weight="bold" fill="#000" textLength="23.2" lengthAdjust="spacingAndGlyphs">2018</text><text x="677.5" y="801.9" font-size="10" text-anchor="middle" font-weight="normal" fill="#000">Feb</text><text x="677.5" y="879.9" font-size="10" text-anchor="middle" font-weight="normal" fill="#000">Feb</text><text x="699.1" y="801.9" font-size="10" text-anchor="middle" font-weight="normal" fill="#000">Mar</text><text x="699.1" y="879.9" font-size="10" text-anchor="middle" font-weight="normal" fill="#000">Mar</text><text x="720.7" y="801.9" font-size="10" text-anchor="middle" font-weight="normal" fill="#000">Apr</text><text x="720.7" y="879.9" font-size="10" text-anchor="middle" font-weight="normal" fill="#000">Apr</text><text x="747.7" y="801.9" font-size="10" text-anchor="middle" font-weight="normal" fill="#000">May</text><text x="747.7" y="879.9" font-size="10" text-anchor="middle" font-weight="normal" fill="#000">May</text><text x="769.3" y="801.9" font-size="10" text-anchor="middle" font-weight="normal" fill="#000">Jun</text><text x="769.3" y="879.9" font-size="10" text-anchor="middle" font-weight="normal" fill="#000">Jun</text><text x="790.9" y="801.9" font-size="10" text-anchor="middle" font-weight="normal" fill="#000">Jul</text><text x="790.9" y="879.9" font-size="10" text-anchor="middle" font-weight="normal" fill="#000">Jul</text><text x="817.9" y="801.9" font-size="10" text-anchor="middle" font-weight="normal" fill="#000">Aug</text><text x="817.9" y="879.9" font-size="10" text-anchor="middle" font-weight="normal" fill="#000">Aug</text><text x="839.5" y="801.9" font-size="10" text-anchor="middle" font-weight="normal" fill="#000">Sep</text><text x="839.5" y="879.9" font-size="10" text-anchor="middle" font-weight="normal" fill="#000">Sep</text><text x="861.1" y="801.9" font-size="10" text-anchor="middle" font-weight="normal" fill="#000">Oct</text><text x="861.1" y="879.9" font-size="10" text-anchor="middle" font-weight="normal" fill="#000">Oct</text><text x="888.1" y="801.9" font-size="10" text-anchor="middle" font-weight="normal" fill="#000">Nov</text><text x="888.1" y="879.9" font-size="10" text-anchor="middle" font-weight="normal" fill="#000">Nov</text><text x="909.7" y="801.9" font-size="10" text-anchor="middle" font-weight="normal" fill="#000">Dec</text><text x="909.7" y="879.9" font-size="10" text-anchor="middle" font-weight="normal" fill="#000">Dec</text><text x="935.9000000000001" y="801.9" font-size="11" text-anchor="middle" font-weight="bold" fill="#000" textLength="23.2" lengthAdjust="spacingAndGlyphs">2019</text><text x="935.9000000000001" y="879.9" font-size="11" text-anchor="middle" font-weight="bold" fill="#000" textLength="23.2" lengthAdjust="spacingAndGlyphs">2019</text><text x="958.3" y="801.9" font-size="10" text-anchor="middle" font-weight="normal" fill="#000">Feb</text><text x="958.3" y="879.9" font-size="10" text-anchor="middle" font-weight="normal" fill="#000">Feb</text><text x="979.9" y="801.9" font-size="10" text-anchor="middle" font-weight="normal" fill="#000">Mar</text><text x="979.9" y="879.9" font-size="10" text-anchor="middle" font-weight="normal" fill="#000">Mar</text><text x="1001.5" y="801.9" font-size="10" text-anchor="middle" font-weight="normal" fill="#000">Apr</text><text x="1001.5" y="879.9" font-size="10" text-anchor="middle" font-weight="normal" fill="#000">Apr</text><text x="1028.5" y="801.9" font-size="10" text-anchor="middle" font-weight="normal" fill="#000">May</text><text x="1028.5" y="879.9" font-size="10" text-anchor="middle" font-weight="normal" fill="#000">May</text><text x="1050.1" y="801.9" font-size="10" text-anchor="middle" font-weight="normal" fill="#000">Jun</text><text x="1050.1" y="879.9" font-size="10" text-anchor="middle" font-weight="normal" fill="#000">Jun</text><text x="1071.7" y="801.9" font-size="10" text-anchor="middle" font-weight="normal" fill="#000">Jul</text><text x="1071.7" y="879.9" font-size="10" text-anchor="middle" font-weight="normal" fill="#000">Jul</text><text x="1098.7" y="801.9" font-size="10" text-anchor="middle" font-weight="normal" fill="#000">Aug</text><text x="1098.7" y="879.9" font-size="10" text-anchor="middle" font-weight="normal" fill="#000">Aug</text><text x="1120.3" y="801.9" font-size="10" text-anchor="middle" font-weight="normal" fill="#000">Sep</text><text x="1120.3" y="879.9" font-size="10" text-anchor="middle" font-weight="normal" fill="#000">Sep</text><text x="1147.3" y="801.9" font-size="10" text-anchor="middle" font-weight="normal" fill="#000">Oct</text><text x="1147.3" y="879.9" font-size="10" text-anchor="middle" font-weight="normal" fill="#000">Oct</text><text x="1168.9" y="801.9" font-size="10" text-anchor="middle" font-weight="normal" fill="#000">Nov</text><text x="1168.9" y="879.9" font-size="10" text-anchor="middle" font-weight="normal" fill="#000">Nov</text><text x="1190.5" y="801.9" font-size="10" text-anchor="middle" font-weight="normal" fill="#000">Dec</text><text x="1190.5" y="879.9" font-size="10" text-anchor="middle" font-weight="normal" fill="#000">Dec</text><text x="1216.7" y="801.9" font-size="11" text-anchor="middle" font-weight="bold" fill="#000" textLength="23.2" lengthAdjust="spacingAndGlyphs">2020</text><text x="1216.7" y="879.9" font-size="11" text-anchor="middle" font-weight="bold" fill="#000" textLength="23.2" lengthAdjust="spacingAndGlyphs">2020</text><text x="1239.1" y="801.9" font-size="10" text-anchor="middle" font-weight="normal" fill="#000">Feb</text><text x="1239.1" y="879.9" font-size="10" text-anchor="middle" font-weight="normal" fill="#000">Feb</text><text x="1260.7" y="801.9" font-size="10" text-anchor="middle" font-weight="normal" fill="#000">Mar</text><text x="1260.7" y="879.9" font-size="10" text-anchor="middle" font-weight="normal" fill="#000">Mar</text><text x="1287.7" y="801.9" font-size="10" text-anchor="middle" font-weight="normal" fill="#000">Apr</text><text x="1287.7" y="879.9" font-size="10" text-anchor="middle" font-weight="normal" fill="#000">Apr</text><text x="1309.3" y="801.9" font-size="10" text-anchor="middle" font-weight="normal" fill="#000">May</text><text x="1309.3" y="879.9" font-size="10" text-anchor="middle" font-weight="normal" fill="#000">May</text><text x="1330.9" y="801.9" font-size="10" text-anchor="middle" font-weight="normal" fill="#000">Jun</text><text x="1330.9" y="879.9" font-size="10" text-anchor="middle" font-weight="normal" fill="#000">Jun</text><text x="1357.9" y="801.9" font-size="10" text-anchor="middle" font-weight="normal" fill="#000">Jul</text><text x="1357.9" y="879.9" font-size="10" text-anchor="middle" font-weight="normal" fill="#000">Jul</text><text x="1379.5" y="801.9" font-size="10" text-anchor="middle" font-weight="normal" fill="#000">Aug</text><text x="1379.5" y="879.9" font-size="10" text-anchor="middle" font-weight="normal" fill="#000">Aug</text><text x="1406.5" y="801.9" font-size="10" text-anchor="middle" font-weight="normal" fill="#000">Sep</text><text x="1406.5" y="879.9" font-size="10" text-anchor="middle" font-weight="normal" fill="#000">Sep</text><text x="1428.1" y="801.9" font-size="10" text-anchor="middle" font-weight="normal" fill="#000">Oct</text><text x="1428.1" y="879.9" font-size="10" text-anchor="middle" font-weight="normal" fill="#000">Oct</text><text x="1449.7" y="801.9" font-size="10" text-anchor="middle" font-weight="normal" fill="#000">Nov</text><text x="1449.7" y="879.9" font-size="10" text-anchor="middle" font-weight="normal" fill="#000">Nov</text><text x="1476.7" y="801.9" font-size="10" text-anchor="middle" font-weight="normal" fill="#000">Dec</text><text x="1476.7" y="879.9" font-size="10" text-anchor="middle" font-weight="normal" fill="#000">Dec</text><text x="1497.5" y="801.9" font-size="11" text-anchor="middle" font-weight="bold" fill="#000" textLength="23.2" lengthAdjust="spacingAndGlyphs">2021</text><text x="1497.5" y="879.9" font-size="11" text-anchor="middle" font-weight="bold" fill="#000" textLength="23.2" lengthAdjust="spacingAndGlyphs">2021</text></g>
<g font-family='"Liberation Sans", Arial, sans-serif' shape-rendering="auto"><text x="808.5" y="88.6" font-size="36.2" text-anchor="start" font-weight="bold" fill="#000" textLength="318" lengthAdjust="spacingAndGlyphs">Gold Weekly Chart</text><text x="904" y="127.0" font-size="20" text-anchor="start" font-weight="bold" fill="#000" textLength="158.5" lengthAdjust="spacingAndGlyphs">Updated June 30</text></g>
</svg>
</body></html>
